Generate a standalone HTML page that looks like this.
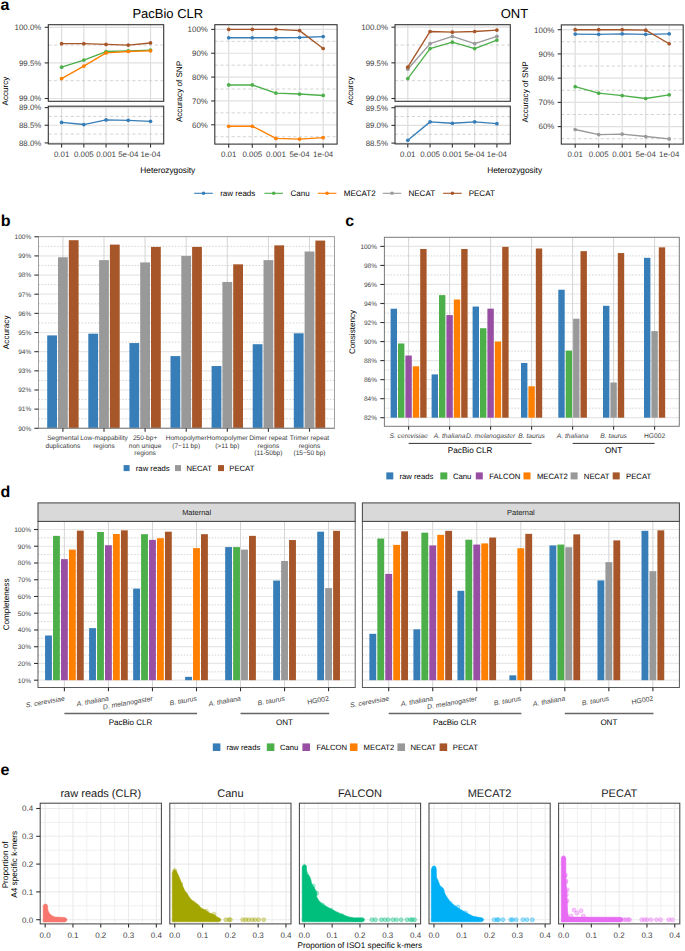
<!DOCTYPE html>
<html><head><meta charset="utf-8"><style>
html,body{margin:0;padding:0;background:#fff;}
svg{display:block;font-family:"Liberation Sans",sans-serif;text-rendering:geometricPrecision;}
</style></head><body>
<svg width="685" height="951" viewBox="0 0 685 951">
<rect width="685" height="951" fill="#fff"/>
<text x="0.6" y="9.8" font-size="16" font-weight="bold">a</text>
<text x="0.8" y="225.8" font-size="16" font-weight="bold">b</text>
<text x="345.2" y="225.8" font-size="16" font-weight="bold">c</text>
<text x="0.5" y="497.2" font-size="16" font-weight="bold">d</text>
<text x="0.6" y="774.9" font-size="16" font-weight="bold">e</text>
<rect x="48.3" y="24.7" width="115.4" height="76.6" fill="#fff"/>
<line x1="61.6" y1="24.7" x2="61.6" y2="101.3" stroke="#DDDDDD" stroke-width="1.2"/>
<line x1="83.83" y1="24.7" x2="83.83" y2="101.3" stroke="#DDDDDD" stroke-width="1.2"/>
<line x1="106.06" y1="24.7" x2="106.06" y2="101.3" stroke="#DDDDDD" stroke-width="1.2"/>
<line x1="128.29" y1="24.7" x2="128.29" y2="101.3" stroke="#DDDDDD" stroke-width="1.2"/>
<line x1="150.52" y1="24.7" x2="150.52" y2="101.3" stroke="#DDDDDD" stroke-width="1.2"/>
<line x1="48.3" y1="98.5" x2="163.7" y2="98.5" stroke="#E0E0E0" stroke-width="1.2"/>
<line x1="48.3" y1="62.9" x2="163.7" y2="62.9" stroke="#E0E0E0" stroke-width="1.2"/>
<line x1="48.3" y1="27.3" x2="163.7" y2="27.3" stroke="#E0E0E0" stroke-width="1.2"/>
<line x1="48.3" y1="80.7" x2="163.7" y2="80.7" stroke="#C8C8C8" stroke-width="0.8" stroke-dasharray="3.2,2.4"/>
<line x1="48.3" y1="45.1" x2="163.7" y2="45.1" stroke="#C8C8C8" stroke-width="0.8" stroke-dasharray="3.2,2.4"/>
<rect x="48.3" y="106.2" width="115.4" height="37.7" fill="#fff"/>
<line x1="61.6" y1="106.2" x2="61.6" y2="143.9" stroke="#DDDDDD" stroke-width="1.2"/>
<line x1="83.83" y1="106.2" x2="83.83" y2="143.9" stroke="#DDDDDD" stroke-width="1.2"/>
<line x1="106.06" y1="106.2" x2="106.06" y2="143.9" stroke="#DDDDDD" stroke-width="1.2"/>
<line x1="128.29" y1="106.2" x2="128.29" y2="143.9" stroke="#DDDDDD" stroke-width="1.2"/>
<line x1="150.52" y1="106.2" x2="150.52" y2="143.9" stroke="#DDDDDD" stroke-width="1.2"/>
<line x1="48.3" y1="142.9" x2="163.7" y2="142.9" stroke="#E0E0E0" stroke-width="1.2"/>
<line x1="48.3" y1="125.25" x2="163.7" y2="125.25" stroke="#E0E0E0" stroke-width="1.2"/>
<line x1="48.3" y1="107.6" x2="163.7" y2="107.6" stroke="#E0E0E0" stroke-width="1.2"/>
<line x1="48.3" y1="134.07" x2="163.7" y2="134.07" stroke="#C8C8C8" stroke-width="0.8" stroke-dasharray="3.2,2.4"/>
<line x1="48.3" y1="116.42" x2="163.7" y2="116.42" stroke="#C8C8C8" stroke-width="0.8" stroke-dasharray="3.2,2.4"/>
<polyline points="61.6,43.68 83.83,43.68 106.06,44.39 128.29,45.1 150.52,42.96" fill="none" stroke="#A65628" stroke-width="1.35" stroke-linejoin="round"/>
<circle cx="61.6" cy="43.68" r="1.85" fill="#A65628"/>
<circle cx="83.83" cy="43.68" r="1.85" fill="#A65628"/>
<circle cx="106.06" cy="44.39" r="1.85" fill="#A65628"/>
<circle cx="128.29" cy="45.1" r="1.85" fill="#A65628"/>
<circle cx="150.52" cy="42.96" r="1.85" fill="#A65628"/>
<polyline points="61.6,67.17 83.83,60.05 106.06,51.51 128.29,50.8 150.52,50.08" fill="none" stroke="#4DAF4A" stroke-width="1.35" stroke-linejoin="round"/>
<circle cx="61.6" cy="67.17" r="1.85" fill="#4DAF4A"/>
<circle cx="83.83" cy="60.05" r="1.85" fill="#4DAF4A"/>
<circle cx="106.06" cy="51.51" r="1.85" fill="#4DAF4A"/>
<circle cx="128.29" cy="50.8" r="1.85" fill="#4DAF4A"/>
<circle cx="150.52" cy="50.08" r="1.85" fill="#4DAF4A"/>
<polyline points="61.6,78.56 83.83,66.1 106.06,52.93 128.29,51.51 150.52,50.8" fill="none" stroke="#FF7F00" stroke-width="1.35" stroke-linejoin="round"/>
<circle cx="61.6" cy="78.56" r="1.85" fill="#FF7F00"/>
<circle cx="83.83" cy="66.1" r="1.85" fill="#FF7F00"/>
<circle cx="106.06" cy="52.93" r="1.85" fill="#FF7F00"/>
<circle cx="128.29" cy="51.51" r="1.85" fill="#FF7F00"/>
<circle cx="150.52" cy="50.8" r="1.85" fill="#FF7F00"/>
<polyline points="61.6,122.43 83.83,124.54 106.06,119.95 128.29,120.31 150.52,121.37" fill="none" stroke="#377EB8" stroke-width="1.35" stroke-linejoin="round"/>
<circle cx="61.6" cy="122.43" r="1.85" fill="#377EB8"/>
<circle cx="83.83" cy="124.54" r="1.85" fill="#377EB8"/>
<circle cx="106.06" cy="119.95" r="1.85" fill="#377EB8"/>
<circle cx="128.29" cy="120.31" r="1.85" fill="#377EB8"/>
<circle cx="150.52" cy="121.37" r="1.85" fill="#377EB8"/>
<rect x="48.3" y="24.7" width="115.4" height="76.6" fill="none" stroke="#333333" stroke-width="1.1"/>
<rect x="48.3" y="106.2" width="115.4" height="37.7" fill="none" stroke="#333333" stroke-width="1.1"/>
<line x1="44.7" y1="27.3" x2="48.3" y2="27.3" stroke="#333333" stroke-width="1.1"/>
<text x="41.3" y="30.14" font-size="7.9" text-anchor="end" fill="#3F3F3F">100.0%</text>
<line x1="44.7" y1="62.9" x2="48.3" y2="62.9" stroke="#333333" stroke-width="1.1"/>
<text x="41.3" y="65.74" font-size="7.9" text-anchor="end" fill="#3F3F3F">99.5%</text>
<line x1="44.7" y1="98.5" x2="48.3" y2="98.5" stroke="#333333" stroke-width="1.1"/>
<text x="41.3" y="101.34" font-size="7.9" text-anchor="end" fill="#3F3F3F">99.0%</text>
<line x1="44.7" y1="107.6" x2="48.3" y2="107.6" stroke="#333333" stroke-width="1.1"/>
<text x="41.3" y="110.44" font-size="7.9" text-anchor="end" fill="#3F3F3F">89.0%</text>
<line x1="44.7" y1="125.25" x2="48.3" y2="125.25" stroke="#333333" stroke-width="1.1"/>
<text x="41.3" y="128.09" font-size="7.9" text-anchor="end" fill="#3F3F3F">88.5%</text>
<line x1="44.7" y1="142.9" x2="48.3" y2="142.9" stroke="#333333" stroke-width="1.1"/>
<text x="41.3" y="145.74" font-size="7.9" text-anchor="end" fill="#3F3F3F">88.0%</text>
<line x1="61.6" y1="143.9" x2="61.6" y2="147.5" stroke="#333333" stroke-width="1.1"/>
<text x="61.6" y="157.4" font-size="7.9" text-anchor="middle" fill="#3F3F3F">0.01</text>
<line x1="83.83" y1="143.9" x2="83.83" y2="147.5" stroke="#333333" stroke-width="1.1"/>
<text x="83.83" y="157.4" font-size="7.9" text-anchor="middle" fill="#3F3F3F">0.005</text>
<line x1="106.06" y1="143.9" x2="106.06" y2="147.5" stroke="#333333" stroke-width="1.1"/>
<text x="106.06" y="157.4" font-size="7.9" text-anchor="middle" fill="#3F3F3F">0.001</text>
<line x1="128.29" y1="143.9" x2="128.29" y2="147.5" stroke="#333333" stroke-width="1.1"/>
<text x="128.29" y="157.4" font-size="7.9" text-anchor="middle" fill="#3F3F3F">5e-04</text>
<line x1="150.52" y1="143.9" x2="150.52" y2="147.5" stroke="#333333" stroke-width="1.1"/>
<text x="150.52" y="157.4" font-size="7.9" text-anchor="middle" fill="#3F3F3F">1e-04</text>
<text x="7.6" y="91" font-size="8.1" text-anchor="middle" transform="rotate(-90 7.6 91)">Accurcy</text>
<rect x="214.8" y="24.7" width="122.3" height="119.4" fill="#fff"/>
<line x1="228.7" y1="24.7" x2="228.7" y2="144.1" stroke="#DDDDDD" stroke-width="1.2"/>
<line x1="252.32" y1="24.7" x2="252.32" y2="144.1" stroke="#DDDDDD" stroke-width="1.2"/>
<line x1="275.94" y1="24.7" x2="275.94" y2="144.1" stroke="#DDDDDD" stroke-width="1.2"/>
<line x1="299.56" y1="24.7" x2="299.56" y2="144.1" stroke="#DDDDDD" stroke-width="1.2"/>
<line x1="323.18" y1="24.7" x2="323.18" y2="144.1" stroke="#DDDDDD" stroke-width="1.2"/>
<line x1="214.8" y1="124.8" x2="337.1" y2="124.8" stroke="#E0E0E0" stroke-width="1.2"/>
<line x1="214.8" y1="100.95" x2="337.1" y2="100.95" stroke="#E0E0E0" stroke-width="1.2"/>
<line x1="214.8" y1="77.1" x2="337.1" y2="77.1" stroke="#E0E0E0" stroke-width="1.2"/>
<line x1="214.8" y1="53.25" x2="337.1" y2="53.25" stroke="#E0E0E0" stroke-width="1.2"/>
<line x1="214.8" y1="29.4" x2="337.1" y2="29.4" stroke="#E0E0E0" stroke-width="1.2"/>
<line x1="214.8" y1="136.72" x2="337.1" y2="136.72" stroke="#C8C8C8" stroke-width="0.8" stroke-dasharray="3.2,2.4"/>
<line x1="214.8" y1="112.88" x2="337.1" y2="112.88" stroke="#C8C8C8" stroke-width="0.8" stroke-dasharray="3.2,2.4"/>
<line x1="214.8" y1="89.03" x2="337.1" y2="89.03" stroke="#C8C8C8" stroke-width="0.8" stroke-dasharray="3.2,2.4"/>
<line x1="214.8" y1="65.17" x2="337.1" y2="65.17" stroke="#C8C8C8" stroke-width="0.8" stroke-dasharray="3.2,2.4"/>
<line x1="214.8" y1="41.33" x2="337.1" y2="41.33" stroke="#C8C8C8" stroke-width="0.8" stroke-dasharray="3.2,2.4"/>
<polyline points="228.7,126.23 252.32,126.23 275.94,138.39 299.56,139.11 323.18,137.68" fill="none" stroke="#FF7F00" stroke-width="1.35" stroke-linejoin="round"/>
<circle cx="228.7" cy="126.23" r="1.85" fill="#FF7F00"/>
<circle cx="252.32" cy="126.23" r="1.85" fill="#FF7F00"/>
<circle cx="275.94" cy="138.39" r="1.85" fill="#FF7F00"/>
<circle cx="299.56" cy="139.11" r="1.85" fill="#FF7F00"/>
<circle cx="323.18" cy="137.68" r="1.85" fill="#FF7F00"/>
<polyline points="228.7,84.97 252.32,84.97 275.94,93.08 299.56,94.03 323.18,95.46" fill="none" stroke="#4DAF4A" stroke-width="1.35" stroke-linejoin="round"/>
<circle cx="228.7" cy="84.97" r="1.85" fill="#4DAF4A"/>
<circle cx="252.32" cy="84.97" r="1.85" fill="#4DAF4A"/>
<circle cx="275.94" cy="93.08" r="1.85" fill="#4DAF4A"/>
<circle cx="299.56" cy="94.03" r="1.85" fill="#4DAF4A"/>
<circle cx="323.18" cy="95.46" r="1.85" fill="#4DAF4A"/>
<polyline points="228.7,37.75 252.32,37.75 275.94,37.75 299.56,37.51 323.18,36.55" fill="none" stroke="#377EB8" stroke-width="1.35" stroke-linejoin="round"/>
<circle cx="228.7" cy="37.75" r="1.85" fill="#377EB8"/>
<circle cx="252.32" cy="37.75" r="1.85" fill="#377EB8"/>
<circle cx="275.94" cy="37.75" r="1.85" fill="#377EB8"/>
<circle cx="299.56" cy="37.51" r="1.85" fill="#377EB8"/>
<circle cx="323.18" cy="36.55" r="1.85" fill="#377EB8"/>
<polyline points="228.7,29.4 252.32,29.4 275.94,29.4 299.56,30.59 323.18,48.48" fill="none" stroke="#A65628" stroke-width="1.35" stroke-linejoin="round"/>
<circle cx="228.7" cy="29.4" r="1.85" fill="#A65628"/>
<circle cx="252.32" cy="29.4" r="1.85" fill="#A65628"/>
<circle cx="275.94" cy="29.4" r="1.85" fill="#A65628"/>
<circle cx="299.56" cy="30.59" r="1.85" fill="#A65628"/>
<circle cx="323.18" cy="48.48" r="1.85" fill="#A65628"/>
<rect x="214.8" y="24.7" width="122.3" height="119.4" fill="none" stroke="#333333" stroke-width="1.1"/>
<line x1="211.2" y1="124.8" x2="214.8" y2="124.8" stroke="#333333" stroke-width="1.1"/>
<text x="207.8" y="127.64" font-size="7.9" text-anchor="end" fill="#3F3F3F">60%</text>
<line x1="211.2" y1="100.95" x2="214.8" y2="100.95" stroke="#333333" stroke-width="1.1"/>
<text x="207.8" y="103.79" font-size="7.9" text-anchor="end" fill="#3F3F3F">70%</text>
<line x1="211.2" y1="77.1" x2="214.8" y2="77.1" stroke="#333333" stroke-width="1.1"/>
<text x="207.8" y="79.94" font-size="7.9" text-anchor="end" fill="#3F3F3F">80%</text>
<line x1="211.2" y1="53.25" x2="214.8" y2="53.25" stroke="#333333" stroke-width="1.1"/>
<text x="207.8" y="56.09" font-size="7.9" text-anchor="end" fill="#3F3F3F">90%</text>
<line x1="211.2" y1="29.4" x2="214.8" y2="29.4" stroke="#333333" stroke-width="1.1"/>
<text x="207.8" y="32.24" font-size="7.9" text-anchor="end" fill="#3F3F3F">100%</text>
<line x1="228.7" y1="144.1" x2="228.7" y2="147.7" stroke="#333333" stroke-width="1.1"/>
<text x="228.7" y="157.4" font-size="7.9" text-anchor="middle" fill="#3F3F3F">0.01</text>
<line x1="252.32" y1="144.1" x2="252.32" y2="147.7" stroke="#333333" stroke-width="1.1"/>
<text x="252.32" y="157.4" font-size="7.9" text-anchor="middle" fill="#3F3F3F">0.005</text>
<line x1="275.94" y1="144.1" x2="275.94" y2="147.7" stroke="#333333" stroke-width="1.1"/>
<text x="275.94" y="157.4" font-size="7.9" text-anchor="middle" fill="#3F3F3F">0.001</text>
<line x1="299.56" y1="144.1" x2="299.56" y2="147.7" stroke="#333333" stroke-width="1.1"/>
<text x="299.56" y="157.4" font-size="7.9" text-anchor="middle" fill="#3F3F3F">5e-04</text>
<line x1="323.18" y1="144.1" x2="323.18" y2="147.7" stroke="#333333" stroke-width="1.1"/>
<text x="323.18" y="157.4" font-size="7.9" text-anchor="middle" fill="#3F3F3F">1e-04</text>
<text x="181.8" y="91.5" font-size="8.1" text-anchor="middle" transform="rotate(-90 181.8 91.5)">Accuracy of SNP</text>
<rect x="395" y="24.7" width="115.3" height="76.6" fill="#fff"/>
<line x1="407.8" y1="24.7" x2="407.8" y2="101.3" stroke="#DDDDDD" stroke-width="1.2"/>
<line x1="430.08" y1="24.7" x2="430.08" y2="101.3" stroke="#DDDDDD" stroke-width="1.2"/>
<line x1="452.36" y1="24.7" x2="452.36" y2="101.3" stroke="#DDDDDD" stroke-width="1.2"/>
<line x1="474.64" y1="24.7" x2="474.64" y2="101.3" stroke="#DDDDDD" stroke-width="1.2"/>
<line x1="496.92" y1="24.7" x2="496.92" y2="101.3" stroke="#DDDDDD" stroke-width="1.2"/>
<line x1="395" y1="98.5" x2="510.3" y2="98.5" stroke="#E0E0E0" stroke-width="1.2"/>
<line x1="395" y1="62.85" x2="510.3" y2="62.85" stroke="#E0E0E0" stroke-width="1.2"/>
<line x1="395" y1="27.2" x2="510.3" y2="27.2" stroke="#E0E0E0" stroke-width="1.2"/>
<line x1="395" y1="80.67" x2="510.3" y2="80.67" stroke="#C8C8C8" stroke-width="0.8" stroke-dasharray="3.2,2.4"/>
<line x1="395" y1="45.02" x2="510.3" y2="45.02" stroke="#C8C8C8" stroke-width="0.8" stroke-dasharray="3.2,2.4"/>
<rect x="395" y="106.2" width="115.3" height="37.7" fill="#fff"/>
<line x1="407.8" y1="106.2" x2="407.8" y2="143.9" stroke="#DDDDDD" stroke-width="1.2"/>
<line x1="430.08" y1="106.2" x2="430.08" y2="143.9" stroke="#DDDDDD" stroke-width="1.2"/>
<line x1="452.36" y1="106.2" x2="452.36" y2="143.9" stroke="#DDDDDD" stroke-width="1.2"/>
<line x1="474.64" y1="106.2" x2="474.64" y2="143.9" stroke="#DDDDDD" stroke-width="1.2"/>
<line x1="496.92" y1="106.2" x2="496.92" y2="143.9" stroke="#DDDDDD" stroke-width="1.2"/>
<line x1="395" y1="143.1" x2="510.3" y2="143.1" stroke="#E0E0E0" stroke-width="1.2"/>
<line x1="395" y1="125.4" x2="510.3" y2="125.4" stroke="#E0E0E0" stroke-width="1.2"/>
<line x1="395" y1="107.7" x2="510.3" y2="107.7" stroke="#E0E0E0" stroke-width="1.2"/>
<line x1="395" y1="134.25" x2="510.3" y2="134.25" stroke="#C8C8C8" stroke-width="0.8" stroke-dasharray="3.2,2.4"/>
<line x1="395" y1="116.55" x2="510.3" y2="116.55" stroke="#C8C8C8" stroke-width="0.8" stroke-dasharray="3.2,2.4"/>
<polyline points="407.8,78.54 430.08,48.59 452.36,42.17 474.64,48.59 496.92,40.03" fill="none" stroke="#4DAF4A" stroke-width="1.35" stroke-linejoin="round"/>
<circle cx="407.8" cy="78.54" r="1.85" fill="#4DAF4A"/>
<circle cx="430.08" cy="48.59" r="1.85" fill="#4DAF4A"/>
<circle cx="452.36" cy="42.17" r="1.85" fill="#4DAF4A"/>
<circle cx="474.64" cy="48.59" r="1.85" fill="#4DAF4A"/>
<circle cx="496.92" cy="40.03" r="1.85" fill="#4DAF4A"/>
<polyline points="407.8,69.27 430.08,43.6 452.36,36.47 474.64,43.6 496.92,36.47" fill="none" stroke="#999999" stroke-width="1.35" stroke-linejoin="round"/>
<circle cx="407.8" cy="69.27" r="1.85" fill="#999999"/>
<circle cx="430.08" cy="43.6" r="1.85" fill="#999999"/>
<circle cx="452.36" cy="36.47" r="1.85" fill="#999999"/>
<circle cx="474.64" cy="43.6" r="1.85" fill="#999999"/>
<circle cx="496.92" cy="36.47" r="1.85" fill="#999999"/>
<polyline points="407.8,67.13 430.08,31.48 452.36,32.19 474.64,31.48 496.92,30.05" fill="none" stroke="#A65628" stroke-width="1.35" stroke-linejoin="round"/>
<circle cx="407.8" cy="67.13" r="1.85" fill="#A65628"/>
<circle cx="430.08" cy="31.48" r="1.85" fill="#A65628"/>
<circle cx="452.36" cy="32.19" r="1.85" fill="#A65628"/>
<circle cx="474.64" cy="31.48" r="1.85" fill="#A65628"/>
<circle cx="496.92" cy="30.05" r="1.85" fill="#A65628"/>
<polyline points="407.8,140.27 430.08,121.86 452.36,123.28 474.64,121.86 496.92,123.63" fill="none" stroke="#377EB8" stroke-width="1.35" stroke-linejoin="round"/>
<circle cx="407.8" cy="140.27" r="1.85" fill="#377EB8"/>
<circle cx="430.08" cy="121.86" r="1.85" fill="#377EB8"/>
<circle cx="452.36" cy="123.28" r="1.85" fill="#377EB8"/>
<circle cx="474.64" cy="121.86" r="1.85" fill="#377EB8"/>
<circle cx="496.92" cy="123.63" r="1.85" fill="#377EB8"/>
<rect x="395" y="24.7" width="115.3" height="76.6" fill="none" stroke="#333333" stroke-width="1.1"/>
<rect x="395" y="106.2" width="115.3" height="37.7" fill="none" stroke="#333333" stroke-width="1.1"/>
<line x1="391.4" y1="27.2" x2="395" y2="27.2" stroke="#333333" stroke-width="1.1"/>
<text x="388" y="30.04" font-size="7.9" text-anchor="end" fill="#3F3F3F">100.0%</text>
<line x1="391.4" y1="62.85" x2="395" y2="62.85" stroke="#333333" stroke-width="1.1"/>
<text x="388" y="65.69" font-size="7.9" text-anchor="end" fill="#3F3F3F">99.5%</text>
<line x1="391.4" y1="98.5" x2="395" y2="98.5" stroke="#333333" stroke-width="1.1"/>
<text x="388" y="101.34" font-size="7.9" text-anchor="end" fill="#3F3F3F">99.0%</text>
<line x1="391.4" y1="107.7" x2="395" y2="107.7" stroke="#333333" stroke-width="1.1"/>
<text x="388" y="110.54" font-size="7.9" text-anchor="end" fill="#3F3F3F">89.5%</text>
<line x1="391.4" y1="125.4" x2="395" y2="125.4" stroke="#333333" stroke-width="1.1"/>
<text x="388" y="128.24" font-size="7.9" text-anchor="end" fill="#3F3F3F">89.0%</text>
<line x1="391.4" y1="143.1" x2="395" y2="143.1" stroke="#333333" stroke-width="1.1"/>
<text x="388" y="145.94" font-size="7.9" text-anchor="end" fill="#3F3F3F">88.5%</text>
<line x1="407.8" y1="143.9" x2="407.8" y2="147.5" stroke="#333333" stroke-width="1.1"/>
<text x="407.8" y="157.4" font-size="7.9" text-anchor="middle" fill="#3F3F3F">0.01</text>
<line x1="430.08" y1="143.9" x2="430.08" y2="147.5" stroke="#333333" stroke-width="1.1"/>
<text x="430.08" y="157.4" font-size="7.9" text-anchor="middle" fill="#3F3F3F">0.005</text>
<line x1="452.36" y1="143.9" x2="452.36" y2="147.5" stroke="#333333" stroke-width="1.1"/>
<text x="452.36" y="157.4" font-size="7.9" text-anchor="middle" fill="#3F3F3F">0.001</text>
<line x1="474.64" y1="143.9" x2="474.64" y2="147.5" stroke="#333333" stroke-width="1.1"/>
<text x="474.64" y="157.4" font-size="7.9" text-anchor="middle" fill="#3F3F3F">5e-04</text>
<line x1="496.92" y1="143.9" x2="496.92" y2="147.5" stroke="#333333" stroke-width="1.1"/>
<text x="496.92" y="157.4" font-size="7.9" text-anchor="middle" fill="#3F3F3F">1e-04</text>
<text x="352.6" y="90.8" font-size="8.1" text-anchor="middle" transform="rotate(-90 352.6 90.8)">Accurcy</text>
<rect x="561.3" y="24.9" width="121.9" height="119.2" fill="#fff"/>
<line x1="575.2" y1="24.9" x2="575.2" y2="144.1" stroke="#DDDDDD" stroke-width="1.2"/>
<line x1="598.7" y1="24.9" x2="598.7" y2="144.1" stroke="#DDDDDD" stroke-width="1.2"/>
<line x1="622.2" y1="24.9" x2="622.2" y2="144.1" stroke="#DDDDDD" stroke-width="1.2"/>
<line x1="645.7" y1="24.9" x2="645.7" y2="144.1" stroke="#DDDDDD" stroke-width="1.2"/>
<line x1="669.2" y1="24.9" x2="669.2" y2="144.1" stroke="#DDDDDD" stroke-width="1.2"/>
<line x1="561.3" y1="126.6" x2="683.2" y2="126.6" stroke="#E0E0E0" stroke-width="1.2"/>
<line x1="561.3" y1="102.37" x2="683.2" y2="102.37" stroke="#E0E0E0" stroke-width="1.2"/>
<line x1="561.3" y1="78.15" x2="683.2" y2="78.15" stroke="#E0E0E0" stroke-width="1.2"/>
<line x1="561.3" y1="53.92" x2="683.2" y2="53.92" stroke="#E0E0E0" stroke-width="1.2"/>
<line x1="561.3" y1="29.7" x2="683.2" y2="29.7" stroke="#E0E0E0" stroke-width="1.2"/>
<line x1="561.3" y1="138.71" x2="683.2" y2="138.71" stroke="#C8C8C8" stroke-width="0.8" stroke-dasharray="3.2,2.4"/>
<line x1="561.3" y1="114.49" x2="683.2" y2="114.49" stroke="#C8C8C8" stroke-width="0.8" stroke-dasharray="3.2,2.4"/>
<line x1="561.3" y1="90.26" x2="683.2" y2="90.26" stroke="#C8C8C8" stroke-width="0.8" stroke-dasharray="3.2,2.4"/>
<line x1="561.3" y1="66.04" x2="683.2" y2="66.04" stroke="#C8C8C8" stroke-width="0.8" stroke-dasharray="3.2,2.4"/>
<line x1="561.3" y1="41.81" x2="683.2" y2="41.81" stroke="#C8C8C8" stroke-width="0.8" stroke-dasharray="3.2,2.4"/>
<polyline points="575.2,129.51 598.7,134.59 622.2,134.11 645.7,136.53 669.2,138.95" fill="none" stroke="#999999" stroke-width="1.35" stroke-linejoin="round"/>
<circle cx="575.2" cy="129.51" r="1.85" fill="#999999"/>
<circle cx="598.7" cy="134.59" r="1.85" fill="#999999"/>
<circle cx="622.2" cy="134.11" r="1.85" fill="#999999"/>
<circle cx="645.7" cy="136.53" r="1.85" fill="#999999"/>
<circle cx="669.2" cy="138.95" r="1.85" fill="#999999"/>
<polyline points="575.2,86.63 598.7,93.17 622.2,95.59 645.7,98.5 669.2,94.87" fill="none" stroke="#4DAF4A" stroke-width="1.35" stroke-linejoin="round"/>
<circle cx="575.2" cy="86.63" r="1.85" fill="#4DAF4A"/>
<circle cx="598.7" cy="93.17" r="1.85" fill="#4DAF4A"/>
<circle cx="622.2" cy="95.59" r="1.85" fill="#4DAF4A"/>
<circle cx="645.7" cy="98.5" r="1.85" fill="#4DAF4A"/>
<circle cx="669.2" cy="94.87" r="1.85" fill="#4DAF4A"/>
<polyline points="575.2,34.06 598.7,34.3 622.2,33.82 645.7,34.3 669.2,33.82" fill="none" stroke="#377EB8" stroke-width="1.35" stroke-linejoin="round"/>
<circle cx="575.2" cy="34.06" r="1.85" fill="#377EB8"/>
<circle cx="598.7" cy="34.3" r="1.85" fill="#377EB8"/>
<circle cx="622.2" cy="33.82" r="1.85" fill="#377EB8"/>
<circle cx="645.7" cy="34.3" r="1.85" fill="#377EB8"/>
<circle cx="669.2" cy="33.82" r="1.85" fill="#377EB8"/>
<polyline points="575.2,29.7 598.7,29.7 622.2,29.7 645.7,30.18 669.2,43.75" fill="none" stroke="#A65628" stroke-width="1.35" stroke-linejoin="round"/>
<circle cx="575.2" cy="29.7" r="1.85" fill="#A65628"/>
<circle cx="598.7" cy="29.7" r="1.85" fill="#A65628"/>
<circle cx="622.2" cy="29.7" r="1.85" fill="#A65628"/>
<circle cx="645.7" cy="30.18" r="1.85" fill="#A65628"/>
<circle cx="669.2" cy="43.75" r="1.85" fill="#A65628"/>
<rect x="561.3" y="24.9" width="121.9" height="119.2" fill="none" stroke="#333333" stroke-width="1.1"/>
<line x1="557.7" y1="126.6" x2="561.3" y2="126.6" stroke="#333333" stroke-width="1.1"/>
<text x="554.3" y="129.44" font-size="7.9" text-anchor="end" fill="#3F3F3F">60%</text>
<line x1="557.7" y1="102.37" x2="561.3" y2="102.37" stroke="#333333" stroke-width="1.1"/>
<text x="554.3" y="105.22" font-size="7.9" text-anchor="end" fill="#3F3F3F">70%</text>
<line x1="557.7" y1="78.15" x2="561.3" y2="78.15" stroke="#333333" stroke-width="1.1"/>
<text x="554.3" y="80.99" font-size="7.9" text-anchor="end" fill="#3F3F3F">80%</text>
<line x1="557.7" y1="53.92" x2="561.3" y2="53.92" stroke="#333333" stroke-width="1.1"/>
<text x="554.3" y="56.77" font-size="7.9" text-anchor="end" fill="#3F3F3F">90%</text>
<line x1="557.7" y1="29.7" x2="561.3" y2="29.7" stroke="#333333" stroke-width="1.1"/>
<text x="554.3" y="32.54" font-size="7.9" text-anchor="end" fill="#3F3F3F">100%</text>
<line x1="575.2" y1="144.1" x2="575.2" y2="147.7" stroke="#333333" stroke-width="1.1"/>
<text x="575.2" y="157.4" font-size="7.9" text-anchor="middle" fill="#3F3F3F">0.01</text>
<line x1="598.7" y1="144.1" x2="598.7" y2="147.7" stroke="#333333" stroke-width="1.1"/>
<text x="598.7" y="157.4" font-size="7.9" text-anchor="middle" fill="#3F3F3F">0.005</text>
<line x1="622.2" y1="144.1" x2="622.2" y2="147.7" stroke="#333333" stroke-width="1.1"/>
<text x="622.2" y="157.4" font-size="7.9" text-anchor="middle" fill="#3F3F3F">0.001</text>
<line x1="645.7" y1="144.1" x2="645.7" y2="147.7" stroke="#333333" stroke-width="1.1"/>
<text x="645.7" y="157.4" font-size="7.9" text-anchor="middle" fill="#3F3F3F">5e-04</text>
<line x1="669.2" y1="144.1" x2="669.2" y2="147.7" stroke="#333333" stroke-width="1.1"/>
<text x="669.2" y="157.4" font-size="7.9" text-anchor="middle" fill="#3F3F3F">1e-04</text>
<text x="528" y="92" font-size="8.1" text-anchor="middle" transform="rotate(-90 528 92)">Accuracy of SNP</text>
<text x="167.8" y="18.2" font-size="13" text-anchor="middle">PacBio CLR</text>
<text x="514.4" y="18.2" font-size="13" text-anchor="middle">ONT</text>
<text x="167.8" y="173.2" font-size="8.3" text-anchor="middle">Heterozygosity</text>
<text x="514.6" y="173.2" font-size="8.3" text-anchor="middle">Heterozygosity</text>
<line x1="194.2" y1="193.3" x2="212.8" y2="193.3" stroke="#377EB8" stroke-width="1.1"/>
<circle cx="203.5" cy="193.3" r="1.75" fill="#377EB8"/>
<text x="220.2" y="196.18" font-size="8">raw reads</text>
<line x1="264.4" y1="193.3" x2="283" y2="193.3" stroke="#4DAF4A" stroke-width="1.1"/>
<circle cx="273.7" cy="193.3" r="1.75" fill="#4DAF4A"/>
<text x="290.5" y="196.18" font-size="8">Canu</text>
<line x1="317.8" y1="193.3" x2="336.4" y2="193.3" stroke="#FF7F00" stroke-width="1.1"/>
<circle cx="327.1" cy="193.3" r="1.75" fill="#FF7F00"/>
<text x="343.8" y="196.18" font-size="8">MECAT2</text>
<line x1="382.7" y1="193.3" x2="401.3" y2="193.3" stroke="#999999" stroke-width="1.1"/>
<circle cx="392" cy="193.3" r="1.75" fill="#999999"/>
<text x="408.5" y="196.18" font-size="8">NECAT</text>
<line x1="443.1" y1="193.3" x2="461.7" y2="193.3" stroke="#A65628" stroke-width="1.1"/>
<circle cx="452.4" cy="193.3" r="1.75" fill="#A65628"/>
<text x="468.7" y="196.18" font-size="8">PECAT</text>
<rect x="38.5" y="236.6" width="296" height="191.7" fill="#fff"/>
<line x1="38.5" y1="428.3" x2="334.5" y2="428.3" stroke="#E6E6E6" stroke-width="1.2"/>
<line x1="38.5" y1="409.14" x2="334.5" y2="409.14" stroke="#E6E6E6" stroke-width="1.2"/>
<line x1="38.5" y1="389.99" x2="334.5" y2="389.99" stroke="#E6E6E6" stroke-width="1.2"/>
<line x1="38.5" y1="370.84" x2="334.5" y2="370.84" stroke="#E6E6E6" stroke-width="1.2"/>
<line x1="38.5" y1="351.68" x2="334.5" y2="351.68" stroke="#E6E6E6" stroke-width="1.2"/>
<line x1="38.5" y1="332.52" x2="334.5" y2="332.52" stroke="#E6E6E6" stroke-width="1.2"/>
<line x1="38.5" y1="313.37" x2="334.5" y2="313.37" stroke="#E6E6E6" stroke-width="1.2"/>
<line x1="38.5" y1="294.22" x2="334.5" y2="294.22" stroke="#E6E6E6" stroke-width="1.2"/>
<line x1="38.5" y1="275.06" x2="334.5" y2="275.06" stroke="#E6E6E6" stroke-width="1.2"/>
<line x1="38.5" y1="255.91" x2="334.5" y2="255.91" stroke="#E6E6E6" stroke-width="1.2"/>
<line x1="38.5" y1="236.75" x2="334.5" y2="236.75" stroke="#E6E6E6" stroke-width="1.2"/>
<line x1="38.5" y1="418.72" x2="334.5" y2="418.72" stroke="#C8C8C8" stroke-width="0.8" stroke-dasharray="1.5,1.6"/>
<line x1="38.5" y1="399.57" x2="334.5" y2="399.57" stroke="#C8C8C8" stroke-width="0.8" stroke-dasharray="1.5,1.6"/>
<line x1="38.5" y1="380.41" x2="334.5" y2="380.41" stroke="#C8C8C8" stroke-width="0.8" stroke-dasharray="1.5,1.6"/>
<line x1="38.5" y1="361.26" x2="334.5" y2="361.26" stroke="#C8C8C8" stroke-width="0.8" stroke-dasharray="1.5,1.6"/>
<line x1="38.5" y1="342.1" x2="334.5" y2="342.1" stroke="#C8C8C8" stroke-width="0.8" stroke-dasharray="1.5,1.6"/>
<line x1="38.5" y1="322.95" x2="334.5" y2="322.95" stroke="#C8C8C8" stroke-width="0.8" stroke-dasharray="1.5,1.6"/>
<line x1="38.5" y1="303.79" x2="334.5" y2="303.79" stroke="#C8C8C8" stroke-width="0.8" stroke-dasharray="1.5,1.6"/>
<line x1="38.5" y1="284.64" x2="334.5" y2="284.64" stroke="#C8C8C8" stroke-width="0.8" stroke-dasharray="1.5,1.6"/>
<line x1="38.5" y1="265.48" x2="334.5" y2="265.48" stroke="#C8C8C8" stroke-width="0.8" stroke-dasharray="1.5,1.6"/>
<line x1="38.5" y1="246.33" x2="334.5" y2="246.33" stroke="#C8C8C8" stroke-width="0.8" stroke-dasharray="1.5,1.6"/>
<line x1="62.9" y1="236.6" x2="62.9" y2="428.3" stroke="#D0D0D0" stroke-width="0.9"/>
<line x1="104" y1="236.6" x2="104" y2="428.3" stroke="#D0D0D0" stroke-width="0.9"/>
<line x1="145.1" y1="236.6" x2="145.1" y2="428.3" stroke="#D0D0D0" stroke-width="0.9"/>
<line x1="186.2" y1="236.6" x2="186.2" y2="428.3" stroke="#D0D0D0" stroke-width="0.9"/>
<line x1="227.3" y1="236.6" x2="227.3" y2="428.3" stroke="#D0D0D0" stroke-width="0.9"/>
<line x1="268.4" y1="236.6" x2="268.4" y2="428.3" stroke="#D0D0D0" stroke-width="0.9"/>
<line x1="309.5" y1="236.6" x2="309.5" y2="428.3" stroke="#D0D0D0" stroke-width="0.9"/>
<rect x="47.2" y="335.4" width="9.8" height="92.9" fill="#377EB8"/>
<rect x="58" y="257.25" width="9.8" height="171.05" fill="#999999"/>
<rect x="68.8" y="240.2" width="9.8" height="188.1" fill="#A65628"/>
<rect x="88.3" y="333.67" width="9.8" height="94.63" fill="#377EB8"/>
<rect x="99.1" y="260.12" width="9.8" height="168.18" fill="#999999"/>
<rect x="109.9" y="244.6" width="9.8" height="183.7" fill="#A65628"/>
<rect x="129.4" y="343.06" width="9.8" height="85.24" fill="#377EB8"/>
<rect x="140.2" y="262.42" width="9.8" height="165.88" fill="#999999"/>
<rect x="151" y="246.9" width="9.8" height="181.4" fill="#A65628"/>
<rect x="170.5" y="356.09" width="9.8" height="72.21" fill="#377EB8"/>
<rect x="181.3" y="255.91" width="9.8" height="172.4" fill="#999999"/>
<rect x="192.1" y="246.9" width="9.8" height="181.4" fill="#A65628"/>
<rect x="211.6" y="366.05" width="9.8" height="62.25" fill="#377EB8"/>
<rect x="222.4" y="281.96" width="9.8" height="146.34" fill="#999999"/>
<rect x="233.2" y="264.33" width="9.8" height="163.97" fill="#A65628"/>
<rect x="252.7" y="344.21" width="9.8" height="84.09" fill="#377EB8"/>
<rect x="263.5" y="260.12" width="9.8" height="168.18" fill="#999999"/>
<rect x="274.3" y="245.37" width="9.8" height="182.93" fill="#A65628"/>
<rect x="293.8" y="333.29" width="9.8" height="95.01" fill="#377EB8"/>
<rect x="304.6" y="251.5" width="9.8" height="176.8" fill="#999999"/>
<rect x="315.4" y="240.58" width="9.8" height="187.72" fill="#A65628"/>
<rect x="38.5" y="236.6" width="296" height="191.7" fill="none" stroke="#A0A0A0" stroke-width="1"/>
<line x1="38.5" y1="428.3" x2="334.5" y2="428.3" stroke="#8A8A8A" stroke-width="1"/>
<line x1="34.4" y1="428.3" x2="38.5" y2="428.3" stroke="#333" stroke-width="1.1"/>
<text x="31.2" y="430.64" font-size="6.5" text-anchor="end" fill="#3F3F3F">90%</text>
<line x1="34.4" y1="409.14" x2="38.5" y2="409.14" stroke="#333" stroke-width="1.1"/>
<text x="31.2" y="411.48" font-size="6.5" text-anchor="end" fill="#3F3F3F">91%</text>
<line x1="34.4" y1="389.99" x2="38.5" y2="389.99" stroke="#333" stroke-width="1.1"/>
<text x="31.2" y="392.33" font-size="6.5" text-anchor="end" fill="#3F3F3F">92%</text>
<line x1="34.4" y1="370.84" x2="38.5" y2="370.84" stroke="#333" stroke-width="1.1"/>
<text x="31.2" y="373.18" font-size="6.5" text-anchor="end" fill="#3F3F3F">93%</text>
<line x1="34.4" y1="351.68" x2="38.5" y2="351.68" stroke="#333" stroke-width="1.1"/>
<text x="31.2" y="354.02" font-size="6.5" text-anchor="end" fill="#3F3F3F">94%</text>
<line x1="34.4" y1="332.52" x2="38.5" y2="332.52" stroke="#333" stroke-width="1.1"/>
<text x="31.2" y="334.86" font-size="6.5" text-anchor="end" fill="#3F3F3F">95%</text>
<line x1="34.4" y1="313.37" x2="38.5" y2="313.37" stroke="#333" stroke-width="1.1"/>
<text x="31.2" y="315.71" font-size="6.5" text-anchor="end" fill="#3F3F3F">96%</text>
<line x1="34.4" y1="294.22" x2="38.5" y2="294.22" stroke="#333" stroke-width="1.1"/>
<text x="31.2" y="296.56" font-size="6.5" text-anchor="end" fill="#3F3F3F">97%</text>
<line x1="34.4" y1="275.06" x2="38.5" y2="275.06" stroke="#333" stroke-width="1.1"/>
<text x="31.2" y="277.4" font-size="6.5" text-anchor="end" fill="#3F3F3F">98%</text>
<line x1="34.4" y1="255.91" x2="38.5" y2="255.91" stroke="#333" stroke-width="1.1"/>
<text x="31.2" y="258.25" font-size="6.5" text-anchor="end" fill="#3F3F3F">99%</text>
<line x1="34.4" y1="236.75" x2="38.5" y2="236.75" stroke="#333" stroke-width="1.1"/>
<text x="31.2" y="239.09" font-size="6.5" text-anchor="end" fill="#3F3F3F">100%</text>
<line x1="62.9" y1="428.3" x2="62.9" y2="431.7" stroke="#333" stroke-width="1.1"/>
<text x="62.9" y="440.18" font-size="6.6" text-anchor="middle" fill="#3A3A3A">Segmental</text>
<text x="62.9" y="447.58" font-size="6.6" text-anchor="middle" fill="#3A3A3A">duplications</text>
<line x1="104" y1="428.3" x2="104" y2="431.7" stroke="#333" stroke-width="1.1"/>
<text x="104" y="440.18" font-size="6.6" text-anchor="middle" fill="#3A3A3A">Low-mappability</text>
<text x="104" y="447.58" font-size="6.6" text-anchor="middle" fill="#3A3A3A">regions</text>
<line x1="145.1" y1="428.3" x2="145.1" y2="431.7" stroke="#333" stroke-width="1.1"/>
<text x="145.1" y="440.18" font-size="6.6" text-anchor="middle" fill="#3A3A3A">250-bp+</text>
<text x="145.1" y="447.58" font-size="6.6" text-anchor="middle" fill="#3A3A3A">non unique</text>
<text x="145.1" y="454.98" font-size="6.6" text-anchor="middle" fill="#3A3A3A">regions</text>
<line x1="186.2" y1="428.3" x2="186.2" y2="431.7" stroke="#333" stroke-width="1.1"/>
<text x="186.2" y="440.18" font-size="6.6" text-anchor="middle" fill="#3A3A3A">Homopolymer</text>
<text x="186.2" y="447.58" font-size="6.6" text-anchor="middle" fill="#3A3A3A">(7−11 bp)</text>
<line x1="227.3" y1="428.3" x2="227.3" y2="431.7" stroke="#333" stroke-width="1.1"/>
<text x="227.3" y="440.18" font-size="6.6" text-anchor="middle" fill="#3A3A3A">Homopolymer</text>
<text x="227.3" y="447.58" font-size="6.6" text-anchor="middle" fill="#3A3A3A">(&gt;11 bp)</text>
<line x1="268.4" y1="428.3" x2="268.4" y2="431.7" stroke="#333" stroke-width="1.1"/>
<text x="268.4" y="440.18" font-size="6.6" text-anchor="middle" fill="#3A3A3A">Dimer repeat</text>
<text x="268.4" y="447.58" font-size="6.6" text-anchor="middle" fill="#3A3A3A">regions</text>
<text x="268.4" y="454.98" font-size="6.6" text-anchor="middle" fill="#3A3A3A">(11-50bp)</text>
<line x1="309.5" y1="428.3" x2="309.5" y2="431.7" stroke="#333" stroke-width="1.1"/>
<text x="309.5" y="440.18" font-size="6.6" text-anchor="middle" fill="#3A3A3A">Trimer repeat</text>
<text x="309.5" y="447.58" font-size="6.6" text-anchor="middle" fill="#3A3A3A">regions</text>
<text x="309.5" y="454.98" font-size="6.6" text-anchor="middle" fill="#3A3A3A">(15−50 bp)</text>
<text x="9.5" y="332.3" font-size="8.2" text-anchor="middle" transform="rotate(-90 9.5 332.3)">Accuracy</text>
<rect x="123.6" y="465.1" width="6" height="6" fill="#377EB8"/>
<text x="135.8" y="470.87" font-size="7.7">raw reads</text>
<rect x="175" y="465.1" width="6" height="6" fill="#999999"/>
<text x="186.4" y="470.87" font-size="7.7">NECAT</text>
<rect x="218" y="465.1" width="6" height="6" fill="#A65628"/>
<text x="229.3" y="470.87" font-size="7.7">PECAT</text>
<rect x="384.4" y="237.3" width="294.9" height="189" fill="#fff"/>
<line x1="384.4" y1="417.7" x2="679.3" y2="417.7" stroke="#E6E6E6" stroke-width="1.2"/>
<line x1="384.4" y1="398.67" x2="679.3" y2="398.67" stroke="#E6E6E6" stroke-width="1.2"/>
<line x1="384.4" y1="379.63" x2="679.3" y2="379.63" stroke="#E6E6E6" stroke-width="1.2"/>
<line x1="384.4" y1="360.6" x2="679.3" y2="360.6" stroke="#E6E6E6" stroke-width="1.2"/>
<line x1="384.4" y1="341.57" x2="679.3" y2="341.57" stroke="#E6E6E6" stroke-width="1.2"/>
<line x1="384.4" y1="322.53" x2="679.3" y2="322.53" stroke="#E6E6E6" stroke-width="1.2"/>
<line x1="384.4" y1="303.5" x2="679.3" y2="303.5" stroke="#E6E6E6" stroke-width="1.2"/>
<line x1="384.4" y1="284.47" x2="679.3" y2="284.47" stroke="#E6E6E6" stroke-width="1.2"/>
<line x1="384.4" y1="265.43" x2="679.3" y2="265.43" stroke="#E6E6E6" stroke-width="1.2"/>
<line x1="384.4" y1="246.4" x2="679.3" y2="246.4" stroke="#E6E6E6" stroke-width="1.2"/>
<line x1="384.4" y1="408.18" x2="679.3" y2="408.18" stroke="#C8C8C8" stroke-width="0.8" stroke-dasharray="1.5,1.6"/>
<line x1="384.4" y1="389.15" x2="679.3" y2="389.15" stroke="#C8C8C8" stroke-width="0.8" stroke-dasharray="1.5,1.6"/>
<line x1="384.4" y1="370.12" x2="679.3" y2="370.12" stroke="#C8C8C8" stroke-width="0.8" stroke-dasharray="1.5,1.6"/>
<line x1="384.4" y1="351.08" x2="679.3" y2="351.08" stroke="#C8C8C8" stroke-width="0.8" stroke-dasharray="1.5,1.6"/>
<line x1="384.4" y1="332.05" x2="679.3" y2="332.05" stroke="#C8C8C8" stroke-width="0.8" stroke-dasharray="1.5,1.6"/>
<line x1="384.4" y1="313.02" x2="679.3" y2="313.02" stroke="#C8C8C8" stroke-width="0.8" stroke-dasharray="1.5,1.6"/>
<line x1="384.4" y1="293.98" x2="679.3" y2="293.98" stroke="#C8C8C8" stroke-width="0.8" stroke-dasharray="1.5,1.6"/>
<line x1="384.4" y1="274.95" x2="679.3" y2="274.95" stroke="#C8C8C8" stroke-width="0.8" stroke-dasharray="1.5,1.6"/>
<line x1="384.4" y1="255.92" x2="679.3" y2="255.92" stroke="#C8C8C8" stroke-width="0.8" stroke-dasharray="1.5,1.6"/>
<line x1="408.6" y1="237.3" x2="408.6" y2="426.3" stroke="#D0D0D0" stroke-width="0.9"/>
<line x1="449.6" y1="237.3" x2="449.6" y2="426.3" stroke="#D0D0D0" stroke-width="0.9"/>
<line x1="490.6" y1="237.3" x2="490.6" y2="426.3" stroke="#D0D0D0" stroke-width="0.9"/>
<line x1="531.6" y1="237.3" x2="531.6" y2="426.3" stroke="#D0D0D0" stroke-width="0.9"/>
<line x1="572.6" y1="237.3" x2="572.6" y2="426.3" stroke="#D0D0D0" stroke-width="0.9"/>
<line x1="613.6" y1="237.3" x2="613.6" y2="426.3" stroke="#D0D0D0" stroke-width="0.9"/>
<line x1="654.6" y1="237.3" x2="654.6" y2="426.3" stroke="#D0D0D0" stroke-width="0.9"/>
<rect x="390.6" y="308.73" width="6.4" height="108.97" fill="#377EB8"/>
<rect x="398" y="343.47" width="6.4" height="74.23" fill="#4DAF4A"/>
<rect x="405.4" y="355.56" width="6.4" height="62.14" fill="#984EA3"/>
<rect x="412.8" y="366.31" width="6.4" height="51.39" fill="#FF7F00"/>
<rect x="420.2" y="248.97" width="6.4" height="168.73" fill="#A65628"/>
<rect x="431.6" y="374.4" width="6.4" height="43.3" fill="#377EB8"/>
<rect x="439" y="295.13" width="6.4" height="122.57" fill="#4DAF4A"/>
<rect x="446.4" y="315.11" width="6.4" height="102.59" fill="#984EA3"/>
<rect x="453.8" y="299.5" width="6.4" height="118.2" fill="#FF7F00"/>
<rect x="461.2" y="248.97" width="6.4" height="168.73" fill="#A65628"/>
<rect x="472.6" y="306.55" width="6.4" height="111.15" fill="#377EB8"/>
<rect x="480" y="328.24" width="6.4" height="89.46" fill="#4DAF4A"/>
<rect x="487.4" y="308.64" width="6.4" height="109.06" fill="#984EA3"/>
<rect x="494.8" y="341.57" width="6.4" height="76.13" fill="#FF7F00"/>
<rect x="502.2" y="246.88" width="6.4" height="170.82" fill="#A65628"/>
<rect x="521" y="362.98" width="6.4" height="54.72" fill="#377EB8"/>
<rect x="528.4" y="386.3" width="6.4" height="31.4" fill="#FF7F00"/>
<rect x="535.8" y="248.49" width="6.4" height="169.21" fill="#A65628"/>
<rect x="558.3" y="289.7" width="6.4" height="128" fill="#377EB8"/>
<rect x="565.7" y="350.61" width="6.4" height="67.09" fill="#4DAF4A"/>
<rect x="573.1" y="318.73" width="6.4" height="98.97" fill="#999999"/>
<rect x="580.5" y="251.16" width="6.4" height="166.54" fill="#A65628"/>
<rect x="603" y="305.78" width="6.4" height="111.92" fill="#377EB8"/>
<rect x="610.4" y="382.49" width="6.4" height="35.21" fill="#999999"/>
<rect x="617.8" y="253.06" width="6.4" height="164.64" fill="#A65628"/>
<rect x="644" y="257.82" width="6.4" height="159.88" fill="#377EB8"/>
<rect x="651.4" y="331.1" width="6.4" height="86.6" fill="#999999"/>
<rect x="658.8" y="247.35" width="6.4" height="170.35" fill="#A65628"/>
<rect x="384.4" y="237.3" width="294.9" height="189" fill="none" stroke="#7A7A7A" stroke-width="1"/>
<line x1="380.3" y1="417.7" x2="384.4" y2="417.7" stroke="#333" stroke-width="1.1"/>
<text x="377" y="420.04" font-size="6.5" text-anchor="end" fill="#3F3F3F">82%</text>
<line x1="380.3" y1="398.67" x2="384.4" y2="398.67" stroke="#333" stroke-width="1.1"/>
<text x="377" y="401.01" font-size="6.5" text-anchor="end" fill="#3F3F3F">84%</text>
<line x1="380.3" y1="379.63" x2="384.4" y2="379.63" stroke="#333" stroke-width="1.1"/>
<text x="377" y="381.97" font-size="6.5" text-anchor="end" fill="#3F3F3F">86%</text>
<line x1="380.3" y1="360.6" x2="384.4" y2="360.6" stroke="#333" stroke-width="1.1"/>
<text x="377" y="362.94" font-size="6.5" text-anchor="end" fill="#3F3F3F">88%</text>
<line x1="380.3" y1="341.57" x2="384.4" y2="341.57" stroke="#333" stroke-width="1.1"/>
<text x="377" y="343.91" font-size="6.5" text-anchor="end" fill="#3F3F3F">90%</text>
<line x1="380.3" y1="322.53" x2="384.4" y2="322.53" stroke="#333" stroke-width="1.1"/>
<text x="377" y="324.87" font-size="6.5" text-anchor="end" fill="#3F3F3F">92%</text>
<line x1="380.3" y1="303.5" x2="384.4" y2="303.5" stroke="#333" stroke-width="1.1"/>
<text x="377" y="305.84" font-size="6.5" text-anchor="end" fill="#3F3F3F">94%</text>
<line x1="380.3" y1="284.47" x2="384.4" y2="284.47" stroke="#333" stroke-width="1.1"/>
<text x="377" y="286.81" font-size="6.5" text-anchor="end" fill="#3F3F3F">96%</text>
<line x1="380.3" y1="265.43" x2="384.4" y2="265.43" stroke="#333" stroke-width="1.1"/>
<text x="377" y="267.77" font-size="6.5" text-anchor="end" fill="#3F3F3F">98%</text>
<line x1="380.3" y1="246.4" x2="384.4" y2="246.4" stroke="#333" stroke-width="1.1"/>
<text x="377" y="248.74" font-size="6.5" text-anchor="end" fill="#3F3F3F">100%</text>
<line x1="408.6" y1="426.3" x2="408.6" y2="429.7" stroke="#333" stroke-width="1.1"/>
<text x="408.6" y="438.4" font-size="6.7" text-anchor="middle" fill="#3F3F3F" font-style="italic">S. cerevisiae</text>
<line x1="449.6" y1="426.3" x2="449.6" y2="429.7" stroke="#333" stroke-width="1.1"/>
<text x="449.6" y="438.4" font-size="6.7" text-anchor="middle" fill="#3F3F3F" font-style="italic">A. thaliana</text>
<line x1="490.6" y1="426.3" x2="490.6" y2="429.7" stroke="#333" stroke-width="1.1"/>
<text x="490.6" y="438.4" font-size="6.7" text-anchor="middle" fill="#3F3F3F" font-style="italic">D. melanogaster</text>
<line x1="531.6" y1="426.3" x2="531.6" y2="429.7" stroke="#333" stroke-width="1.1"/>
<text x="531.6" y="438.4" font-size="6.7" text-anchor="middle" fill="#3F3F3F" font-style="italic">B. taurus</text>
<line x1="572.6" y1="426.3" x2="572.6" y2="429.7" stroke="#333" stroke-width="1.1"/>
<text x="572.6" y="438.4" font-size="6.7" text-anchor="middle" fill="#3F3F3F" font-style="italic">A. thaliana</text>
<line x1="613.6" y1="426.3" x2="613.6" y2="429.7" stroke="#333" stroke-width="1.1"/>
<text x="613.6" y="438.4" font-size="6.7" text-anchor="middle" fill="#3F3F3F" font-style="italic">B. taurus</text>
<line x1="654.6" y1="426.3" x2="654.6" y2="429.7" stroke="#333" stroke-width="1.1"/>
<text x="654.6" y="438.4" font-size="6.7" text-anchor="middle" fill="#3F3F3F">HG002</text>
<line x1="408.6" y1="443.4" x2="531.6" y2="443.4" stroke="#333" stroke-width="1"/>
<line x1="572.6" y1="443.4" x2="654.6" y2="443.4" stroke="#333" stroke-width="1"/>
<text x="470.1" y="452.65" font-size="8.2" text-anchor="middle">PacBio CLR</text>
<text x="613.6" y="452.65" font-size="8.2" text-anchor="middle">ONT</text>
<text x="355.4" y="332" font-size="8.1" text-anchor="middle" transform="rotate(-90 355.4 332)">Consistency</text>
<rect x="386.3" y="472.4" width="7" height="7" fill="#377EB8"/>
<text x="399.4" y="478.69" font-size="7.75">raw reads</text>
<rect x="440.3" y="472.4" width="7" height="7" fill="#4DAF4A"/>
<text x="452.9" y="478.69" font-size="7.75">Canu</text>
<rect x="475.8" y="472.4" width="7" height="7" fill="#984EA3"/>
<text x="489.3" y="478.69" font-size="7.75">FALCON</text>
<rect x="523.5" y="472.4" width="7" height="7" fill="#FF7F00"/>
<text x="536.9" y="478.69" font-size="7.75">MECAT2</text>
<rect x="570.6" y="472.4" width="7" height="7" fill="#999999"/>
<text x="583.8" y="478.69" font-size="7.75">NECAT</text>
<rect x="612.7" y="472.4" width="7" height="7" fill="#A65628"/>
<text x="626" y="478.69" font-size="7.75">PECAT</text>
<rect x="38" y="521.4" width="317.2" height="166.1" fill="#fff"/>
<line x1="38" y1="680.2" x2="355.2" y2="680.2" stroke="#E6E6E6" stroke-width="1.2"/>
<line x1="38" y1="663.46" x2="355.2" y2="663.46" stroke="#E6E6E6" stroke-width="1.2"/>
<line x1="38" y1="646.71" x2="355.2" y2="646.71" stroke="#E6E6E6" stroke-width="1.2"/>
<line x1="38" y1="629.97" x2="355.2" y2="629.97" stroke="#E6E6E6" stroke-width="1.2"/>
<line x1="38" y1="613.22" x2="355.2" y2="613.22" stroke="#E6E6E6" stroke-width="1.2"/>
<line x1="38" y1="596.48" x2="355.2" y2="596.48" stroke="#E6E6E6" stroke-width="1.2"/>
<line x1="38" y1="579.73" x2="355.2" y2="579.73" stroke="#E6E6E6" stroke-width="1.2"/>
<line x1="38" y1="562.99" x2="355.2" y2="562.99" stroke="#E6E6E6" stroke-width="1.2"/>
<line x1="38" y1="546.24" x2="355.2" y2="546.24" stroke="#E6E6E6" stroke-width="1.2"/>
<line x1="38" y1="529.5" x2="355.2" y2="529.5" stroke="#E6E6E6" stroke-width="1.2"/>
<line x1="38" y1="671.83" x2="355.2" y2="671.83" stroke="#C8C8C8" stroke-width="0.8" stroke-dasharray="1.5,1.6"/>
<line x1="38" y1="655.08" x2="355.2" y2="655.08" stroke="#C8C8C8" stroke-width="0.8" stroke-dasharray="1.5,1.6"/>
<line x1="38" y1="638.34" x2="355.2" y2="638.34" stroke="#C8C8C8" stroke-width="0.8" stroke-dasharray="1.5,1.6"/>
<line x1="38" y1="621.59" x2="355.2" y2="621.59" stroke="#C8C8C8" stroke-width="0.8" stroke-dasharray="1.5,1.6"/>
<line x1="38" y1="604.85" x2="355.2" y2="604.85" stroke="#C8C8C8" stroke-width="0.8" stroke-dasharray="1.5,1.6"/>
<line x1="38" y1="588.11" x2="355.2" y2="588.11" stroke="#C8C8C8" stroke-width="0.8" stroke-dasharray="1.5,1.6"/>
<line x1="38" y1="571.36" x2="355.2" y2="571.36" stroke="#C8C8C8" stroke-width="0.8" stroke-dasharray="1.5,1.6"/>
<line x1="38" y1="554.62" x2="355.2" y2="554.62" stroke="#C8C8C8" stroke-width="0.8" stroke-dasharray="1.5,1.6"/>
<line x1="38" y1="537.87" x2="355.2" y2="537.87" stroke="#C8C8C8" stroke-width="0.8" stroke-dasharray="1.5,1.6"/>
<line x1="64.4" y1="521.4" x2="64.4" y2="687.5" stroke="#D0D0D0" stroke-width="0.9"/>
<line x1="108.43" y1="521.4" x2="108.43" y2="687.5" stroke="#D0D0D0" stroke-width="0.9"/>
<line x1="152.46" y1="521.4" x2="152.46" y2="687.5" stroke="#D0D0D0" stroke-width="0.9"/>
<line x1="196.49" y1="521.4" x2="196.49" y2="687.5" stroke="#D0D0D0" stroke-width="0.9"/>
<line x1="240.52" y1="521.4" x2="240.52" y2="687.5" stroke="#D0D0D0" stroke-width="0.9"/>
<line x1="284.55" y1="521.4" x2="284.55" y2="687.5" stroke="#D0D0D0" stroke-width="0.9"/>
<line x1="328.58" y1="521.4" x2="328.58" y2="687.5" stroke="#D0D0D0" stroke-width="0.9"/>
<rect x="45.08" y="635.49" width="6.85" height="44.71" fill="#377EB8"/>
<rect x="53.03" y="535.86" width="6.85" height="144.34" fill="#4DAF4A"/>
<rect x="60.98" y="559.14" width="6.85" height="121.06" fill="#984EA3"/>
<rect x="68.92" y="549.59" width="6.85" height="130.61" fill="#FF7F00"/>
<rect x="76.88" y="530.67" width="6.85" height="149.53" fill="#A65628"/>
<rect x="89.11" y="628.12" width="6.85" height="52.08" fill="#377EB8"/>
<rect x="97.06" y="532.01" width="6.85" height="148.19" fill="#4DAF4A"/>
<rect x="105.01" y="545.24" width="6.85" height="134.96" fill="#984EA3"/>
<rect x="112.95" y="534.02" width="6.85" height="146.18" fill="#FF7F00"/>
<rect x="120.91" y="530.34" width="6.85" height="149.86" fill="#A65628"/>
<rect x="133.14" y="588.61" width="6.85" height="91.59" fill="#377EB8"/>
<rect x="141.09" y="534.19" width="6.85" height="146.01" fill="#4DAF4A"/>
<rect x="149.04" y="539.88" width="6.85" height="140.32" fill="#984EA3"/>
<rect x="156.99" y="538.21" width="6.85" height="141.99" fill="#FF7F00"/>
<rect x="164.94" y="531.68" width="6.85" height="148.52" fill="#A65628"/>
<rect x="185.12" y="676.85" width="6.85" height="3.35" fill="#377EB8"/>
<rect x="193.06" y="548.09" width="6.85" height="132.11" fill="#FF7F00"/>
<rect x="201.02" y="534.19" width="6.85" height="146.01" fill="#A65628"/>
<rect x="225.17" y="547.08" width="6.85" height="133.12" fill="#377EB8"/>
<rect x="233.12" y="547.08" width="6.85" height="133.12" fill="#4DAF4A"/>
<rect x="241.07" y="549.59" width="6.85" height="130.61" fill="#999999"/>
<rect x="249.02" y="535.86" width="6.85" height="144.34" fill="#A65628"/>
<rect x="273.18" y="580.57" width="6.85" height="99.63" fill="#377EB8"/>
<rect x="281.12" y="560.98" width="6.85" height="119.22" fill="#999999"/>
<rect x="289.07" y="540.05" width="6.85" height="140.15" fill="#A65628"/>
<rect x="317.21" y="531.68" width="6.85" height="148.52" fill="#377EB8"/>
<rect x="325.16" y="588.11" width="6.85" height="92.09" fill="#999999"/>
<rect x="333.11" y="530.84" width="6.85" height="149.36" fill="#A65628"/>
<rect x="38" y="521.4" width="317.2" height="166.1" fill="none" stroke="#5A5A5A" stroke-width="1"/>
<rect x="38" y="502.9" width="317.2" height="18.5" fill="#D9D9D9" stroke="#484848" stroke-width="1.05"/>
<text x="196.6" y="514.88" font-size="7.45" text-anchor="middle" fill="#1A1A1A">Maternal</text>
<line x1="34" y1="680.2" x2="38" y2="680.2" stroke="#333" stroke-width="1.1"/>
<text x="31" y="682.58" font-size="6.6" text-anchor="end" fill="#3F3F3F">10%</text>
<line x1="34" y1="663.46" x2="38" y2="663.46" stroke="#333" stroke-width="1.1"/>
<text x="31" y="665.83" font-size="6.6" text-anchor="end" fill="#3F3F3F">20%</text>
<line x1="34" y1="646.71" x2="38" y2="646.71" stroke="#333" stroke-width="1.1"/>
<text x="31" y="649.09" font-size="6.6" text-anchor="end" fill="#3F3F3F">30%</text>
<line x1="34" y1="629.97" x2="38" y2="629.97" stroke="#333" stroke-width="1.1"/>
<text x="31" y="632.34" font-size="6.6" text-anchor="end" fill="#3F3F3F">40%</text>
<line x1="34" y1="613.22" x2="38" y2="613.22" stroke="#333" stroke-width="1.1"/>
<text x="31" y="615.6" font-size="6.6" text-anchor="end" fill="#3F3F3F">50%</text>
<line x1="34" y1="596.48" x2="38" y2="596.48" stroke="#333" stroke-width="1.1"/>
<text x="31" y="598.85" font-size="6.6" text-anchor="end" fill="#3F3F3F">60%</text>
<line x1="34" y1="579.73" x2="38" y2="579.73" stroke="#333" stroke-width="1.1"/>
<text x="31" y="582.11" font-size="6.6" text-anchor="end" fill="#3F3F3F">70%</text>
<line x1="34" y1="562.99" x2="38" y2="562.99" stroke="#333" stroke-width="1.1"/>
<text x="31" y="565.36" font-size="6.6" text-anchor="end" fill="#3F3F3F">80%</text>
<line x1="34" y1="546.24" x2="38" y2="546.24" stroke="#333" stroke-width="1.1"/>
<text x="31" y="548.62" font-size="6.6" text-anchor="end" fill="#3F3F3F">90%</text>
<line x1="34" y1="529.5" x2="38" y2="529.5" stroke="#333" stroke-width="1.1"/>
<text x="31" y="531.88" font-size="6.6" text-anchor="end" fill="#3F3F3F">100%</text>
<line x1="64.4" y1="687.5" x2="64.4" y2="691.3" stroke="#333" stroke-width="1.1"/>
<text x="65" y="700.6" font-size="6.9" text-anchor="end" fill="#3F3F3F" font-style="italic" transform="rotate(-10 65 700.6)">S. cerevisiae</text>
<line x1="108.43" y1="687.5" x2="108.43" y2="691.3" stroke="#333" stroke-width="1.1"/>
<text x="109.03" y="700.6" font-size="6.9" text-anchor="end" fill="#3F3F3F" font-style="italic" transform="rotate(-10 109.03 700.6)">A. thaliana</text>
<line x1="152.46" y1="687.5" x2="152.46" y2="691.3" stroke="#333" stroke-width="1.1"/>
<text x="153.06" y="700.6" font-size="6.9" text-anchor="end" fill="#3F3F3F" font-style="italic" transform="rotate(-10 153.06 700.6)">D. melanogaster</text>
<line x1="196.49" y1="687.5" x2="196.49" y2="691.3" stroke="#333" stroke-width="1.1"/>
<text x="197.09" y="700.6" font-size="6.9" text-anchor="end" fill="#3F3F3F" font-style="italic" transform="rotate(-10 197.09 700.6)">B. taurus</text>
<line x1="240.52" y1="687.5" x2="240.52" y2="691.3" stroke="#333" stroke-width="1.1"/>
<text x="241.12" y="700.6" font-size="6.9" text-anchor="end" fill="#3F3F3F" font-style="italic" transform="rotate(-10 241.12 700.6)">A. thaliana</text>
<line x1="284.55" y1="687.5" x2="284.55" y2="691.3" stroke="#333" stroke-width="1.1"/>
<text x="285.15" y="700.6" font-size="6.9" text-anchor="end" fill="#3F3F3F" font-style="italic" transform="rotate(-10 285.15 700.6)">B. taurus</text>
<line x1="328.58" y1="687.5" x2="328.58" y2="691.3" stroke="#333" stroke-width="1.1"/>
<text x="329.18" y="700.6" font-size="6.9" text-anchor="end" fill="#3F3F3F" transform="rotate(-10 329.18 700.6)">HG002</text>
<line x1="64.4" y1="713.5" x2="197.09" y2="713.5" stroke="#666" stroke-width="1.3"/>
<line x1="240.52" y1="713.5" x2="329.18" y2="713.5" stroke="#666" stroke-width="1.3"/>
<text x="130.44" y="725.38" font-size="8" text-anchor="middle">PacBio CLR</text>
<text x="284.55" y="725.38" font-size="8" text-anchor="middle">ONT</text>
<rect x="362.4" y="521.4" width="317" height="166.1" fill="#fff"/>
<line x1="362.4" y1="680.2" x2="679.4" y2="680.2" stroke="#E6E6E6" stroke-width="1.2"/>
<line x1="362.4" y1="663.46" x2="679.4" y2="663.46" stroke="#E6E6E6" stroke-width="1.2"/>
<line x1="362.4" y1="646.71" x2="679.4" y2="646.71" stroke="#E6E6E6" stroke-width="1.2"/>
<line x1="362.4" y1="629.97" x2="679.4" y2="629.97" stroke="#E6E6E6" stroke-width="1.2"/>
<line x1="362.4" y1="613.22" x2="679.4" y2="613.22" stroke="#E6E6E6" stroke-width="1.2"/>
<line x1="362.4" y1="596.48" x2="679.4" y2="596.48" stroke="#E6E6E6" stroke-width="1.2"/>
<line x1="362.4" y1="579.73" x2="679.4" y2="579.73" stroke="#E6E6E6" stroke-width="1.2"/>
<line x1="362.4" y1="562.99" x2="679.4" y2="562.99" stroke="#E6E6E6" stroke-width="1.2"/>
<line x1="362.4" y1="546.24" x2="679.4" y2="546.24" stroke="#E6E6E6" stroke-width="1.2"/>
<line x1="362.4" y1="529.5" x2="679.4" y2="529.5" stroke="#E6E6E6" stroke-width="1.2"/>
<line x1="362.4" y1="671.83" x2="679.4" y2="671.83" stroke="#C8C8C8" stroke-width="0.8" stroke-dasharray="1.5,1.6"/>
<line x1="362.4" y1="655.08" x2="679.4" y2="655.08" stroke="#C8C8C8" stroke-width="0.8" stroke-dasharray="1.5,1.6"/>
<line x1="362.4" y1="638.34" x2="679.4" y2="638.34" stroke="#C8C8C8" stroke-width="0.8" stroke-dasharray="1.5,1.6"/>
<line x1="362.4" y1="621.59" x2="679.4" y2="621.59" stroke="#C8C8C8" stroke-width="0.8" stroke-dasharray="1.5,1.6"/>
<line x1="362.4" y1="604.85" x2="679.4" y2="604.85" stroke="#C8C8C8" stroke-width="0.8" stroke-dasharray="1.5,1.6"/>
<line x1="362.4" y1="588.11" x2="679.4" y2="588.11" stroke="#C8C8C8" stroke-width="0.8" stroke-dasharray="1.5,1.6"/>
<line x1="362.4" y1="571.36" x2="679.4" y2="571.36" stroke="#C8C8C8" stroke-width="0.8" stroke-dasharray="1.5,1.6"/>
<line x1="362.4" y1="554.62" x2="679.4" y2="554.62" stroke="#C8C8C8" stroke-width="0.8" stroke-dasharray="1.5,1.6"/>
<line x1="362.4" y1="537.87" x2="679.4" y2="537.87" stroke="#C8C8C8" stroke-width="0.8" stroke-dasharray="1.5,1.6"/>
<line x1="388.7" y1="521.4" x2="388.7" y2="687.5" stroke="#D0D0D0" stroke-width="0.9"/>
<line x1="432.73" y1="521.4" x2="432.73" y2="687.5" stroke="#D0D0D0" stroke-width="0.9"/>
<line x1="476.76" y1="521.4" x2="476.76" y2="687.5" stroke="#D0D0D0" stroke-width="0.9"/>
<line x1="520.79" y1="521.4" x2="520.79" y2="687.5" stroke="#D0D0D0" stroke-width="0.9"/>
<line x1="564.82" y1="521.4" x2="564.82" y2="687.5" stroke="#D0D0D0" stroke-width="0.9"/>
<line x1="608.85" y1="521.4" x2="608.85" y2="687.5" stroke="#D0D0D0" stroke-width="0.9"/>
<line x1="652.88" y1="521.4" x2="652.88" y2="687.5" stroke="#D0D0D0" stroke-width="0.9"/>
<rect x="369.38" y="633.82" width="6.85" height="46.38" fill="#377EB8"/>
<rect x="377.32" y="538.54" width="6.85" height="141.66" fill="#4DAF4A"/>
<rect x="385.27" y="573.87" width="6.85" height="106.33" fill="#984EA3"/>
<rect x="393.23" y="544.9" width="6.85" height="135.3" fill="#FF7F00"/>
<rect x="401.18" y="531.34" width="6.85" height="148.86" fill="#A65628"/>
<rect x="413.41" y="629.3" width="6.85" height="50.9" fill="#377EB8"/>
<rect x="421.36" y="532.68" width="6.85" height="147.52" fill="#4DAF4A"/>
<rect x="429.31" y="545.41" width="6.85" height="134.79" fill="#984EA3"/>
<rect x="437.26" y="534.86" width="6.85" height="145.34" fill="#FF7F00"/>
<rect x="445.21" y="530.84" width="6.85" height="149.36" fill="#A65628"/>
<rect x="457.44" y="590.78" width="6.85" height="89.42" fill="#377EB8"/>
<rect x="465.38" y="539.71" width="6.85" height="140.49" fill="#4DAF4A"/>
<rect x="473.33" y="544.57" width="6.85" height="135.63" fill="#984EA3"/>
<rect x="481.29" y="543.4" width="6.85" height="136.8" fill="#FF7F00"/>
<rect x="489.24" y="537.54" width="6.85" height="142.66" fill="#A65628"/>
<rect x="509.41" y="675.34" width="6.85" height="4.86" fill="#377EB8"/>
<rect x="517.36" y="548.25" width="6.85" height="131.95" fill="#FF7F00"/>
<rect x="525.31" y="533.85" width="6.85" height="146.35" fill="#A65628"/>
<rect x="549.47" y="545.41" width="6.85" height="134.79" fill="#377EB8"/>
<rect x="557.42" y="544.57" width="6.85" height="135.63" fill="#4DAF4A"/>
<rect x="565.37" y="547.25" width="6.85" height="132.95" fill="#999999"/>
<rect x="573.32" y="534.36" width="6.85" height="145.84" fill="#A65628"/>
<rect x="597.48" y="580.4" width="6.85" height="99.8" fill="#377EB8"/>
<rect x="605.43" y="562.15" width="6.85" height="118.05" fill="#999999"/>
<rect x="613.38" y="540.38" width="6.85" height="139.82" fill="#A65628"/>
<rect x="641.5" y="530.84" width="6.85" height="149.36" fill="#377EB8"/>
<rect x="649.46" y="571.19" width="6.85" height="109.01" fill="#999999"/>
<rect x="657.4" y="530.34" width="6.85" height="149.86" fill="#A65628"/>
<rect x="362.4" y="521.4" width="317" height="166.1" fill="none" stroke="#5A5A5A" stroke-width="1"/>
<rect x="362.4" y="502.9" width="317" height="18.5" fill="#D9D9D9" stroke="#484848" stroke-width="1.05"/>
<text x="520.9" y="514.88" font-size="7.45" text-anchor="middle" fill="#1A1A1A">Paternal</text>
<line x1="388.7" y1="687.5" x2="388.7" y2="691.3" stroke="#333" stroke-width="1.1"/>
<text x="389.3" y="700.6" font-size="6.9" text-anchor="end" fill="#3F3F3F" font-style="italic" transform="rotate(-10 389.3 700.6)">S. cerevisiae</text>
<line x1="432.73" y1="687.5" x2="432.73" y2="691.3" stroke="#333" stroke-width="1.1"/>
<text x="433.33" y="700.6" font-size="6.9" text-anchor="end" fill="#3F3F3F" font-style="italic" transform="rotate(-10 433.33 700.6)">A. thaliana</text>
<line x1="476.76" y1="687.5" x2="476.76" y2="691.3" stroke="#333" stroke-width="1.1"/>
<text x="477.36" y="700.6" font-size="6.9" text-anchor="end" fill="#3F3F3F" font-style="italic" transform="rotate(-10 477.36 700.6)">D. melanogaster</text>
<line x1="520.79" y1="687.5" x2="520.79" y2="691.3" stroke="#333" stroke-width="1.1"/>
<text x="521.39" y="700.6" font-size="6.9" text-anchor="end" fill="#3F3F3F" font-style="italic" transform="rotate(-10 521.39 700.6)">B. taurus</text>
<line x1="564.82" y1="687.5" x2="564.82" y2="691.3" stroke="#333" stroke-width="1.1"/>
<text x="565.42" y="700.6" font-size="6.9" text-anchor="end" fill="#3F3F3F" font-style="italic" transform="rotate(-10 565.42 700.6)">A. thaliana</text>
<line x1="608.85" y1="687.5" x2="608.85" y2="691.3" stroke="#333" stroke-width="1.1"/>
<text x="609.45" y="700.6" font-size="6.9" text-anchor="end" fill="#3F3F3F" font-style="italic" transform="rotate(-10 609.45 700.6)">B. taurus</text>
<line x1="652.88" y1="687.5" x2="652.88" y2="691.3" stroke="#333" stroke-width="1.1"/>
<text x="653.48" y="700.6" font-size="6.9" text-anchor="end" fill="#3F3F3F" transform="rotate(-10 653.48 700.6)">HG002</text>
<line x1="388.7" y1="713.5" x2="521.39" y2="713.5" stroke="#666" stroke-width="1.3"/>
<line x1="564.82" y1="713.5" x2="653.48" y2="713.5" stroke="#666" stroke-width="1.3"/>
<text x="454.75" y="725.38" font-size="8" text-anchor="middle">PacBio CLR</text>
<text x="608.85" y="725.38" font-size="8" text-anchor="middle">ONT</text>
<text x="8.9" y="604.4" font-size="8.1" text-anchor="middle" transform="rotate(-90 8.9 604.4)">Completeness</text>
<rect x="212.8" y="743.4" width="7.6" height="7.6" fill="#377EB8"/>
<text x="226.5" y="749.97" font-size="7.7">raw reads</text>
<rect x="266.8" y="743.4" width="7.6" height="7.6" fill="#4DAF4A"/>
<text x="279.9" y="749.97" font-size="7.7">Canu</text>
<rect x="302.4" y="743.4" width="7.6" height="7.6" fill="#984EA3"/>
<text x="316.4" y="749.97" font-size="7.7">FALCON</text>
<rect x="349.9" y="743.4" width="7.6" height="7.6" fill="#FF7F00"/>
<text x="363.6" y="749.97" font-size="7.7">MECAT2</text>
<rect x="397.4" y="743.4" width="7.6" height="7.6" fill="#999999"/>
<text x="410.5" y="749.97" font-size="7.7">NECAT</text>
<rect x="439.6" y="743.4" width="7.6" height="7.6" fill="#A65628"/>
<text x="452.8" y="749.97" font-size="7.7">PECAT</text>
<rect x="40.2" y="803.2" width="121.2" height="120.7" fill="#fff"/>
<line x1="45.15" y1="803.2" x2="45.15" y2="923.9" stroke="#EBEBEB" stroke-width="1.1"/>
<line x1="40.2" y1="919.7" x2="161.4" y2="919.7" stroke="#EBEBEB" stroke-width="1.1"/>
<line x1="59.05" y1="803.2" x2="59.05" y2="923.9" stroke="#EBEBEB" stroke-width="0.7"/>
<line x1="40.2" y1="905.8" x2="161.4" y2="905.8" stroke="#EBEBEB" stroke-width="0.7"/>
<line x1="72.95" y1="803.2" x2="72.95" y2="923.9" stroke="#EBEBEB" stroke-width="1.1"/>
<line x1="40.2" y1="891.9" x2="161.4" y2="891.9" stroke="#EBEBEB" stroke-width="1.1"/>
<line x1="86.85" y1="803.2" x2="86.85" y2="923.9" stroke="#EBEBEB" stroke-width="0.7"/>
<line x1="40.2" y1="878" x2="161.4" y2="878" stroke="#EBEBEB" stroke-width="0.7"/>
<line x1="100.75" y1="803.2" x2="100.75" y2="923.9" stroke="#EBEBEB" stroke-width="1.1"/>
<line x1="40.2" y1="864.1" x2="161.4" y2="864.1" stroke="#EBEBEB" stroke-width="1.1"/>
<line x1="114.65" y1="803.2" x2="114.65" y2="923.9" stroke="#EBEBEB" stroke-width="0.7"/>
<line x1="40.2" y1="850.2" x2="161.4" y2="850.2" stroke="#EBEBEB" stroke-width="0.7"/>
<line x1="128.55" y1="803.2" x2="128.55" y2="923.9" stroke="#EBEBEB" stroke-width="1.1"/>
<line x1="40.2" y1="836.3" x2="161.4" y2="836.3" stroke="#EBEBEB" stroke-width="1.1"/>
<line x1="142.45" y1="803.2" x2="142.45" y2="923.9" stroke="#EBEBEB" stroke-width="0.7"/>
<line x1="40.2" y1="822.4" x2="161.4" y2="822.4" stroke="#EBEBEB" stroke-width="0.7"/>
<line x1="156.35" y1="803.2" x2="156.35" y2="923.9" stroke="#EBEBEB" stroke-width="1.1"/>
<line x1="40.2" y1="808.5" x2="161.4" y2="808.5" stroke="#EBEBEB" stroke-width="1.1"/>
<path d="M43.15,922 L43.15,906.3 L43.85,904.6 L45.45,904 L47.05,904.6 L47.65,906.1 L47.85,909.7 L48.55,911.7 L50.15,914.2 L52.45,915.9 L55.15,917.1 L62.15,917.3 L64.65,917.4 L66.45,918.3 L67.05,919.7 L66.45,921.2 L64.65,922 Z" fill="#F8766D" stroke="#F8766D" stroke-width="0.5" stroke-linejoin="round"/>
<rect x="40.2" y="803.2" width="121.2" height="120.7" fill="none" stroke="#474747" stroke-width="1.05"/>
<line x1="45.15" y1="923.9" x2="45.15" y2="927.5" stroke="#333" stroke-width="1.1"/>
<text x="45.15" y="937.8" font-size="8" text-anchor="middle" fill="#3F3F3F">0.0</text>
<line x1="36.2" y1="919.7" x2="40.2" y2="919.7" stroke="#333" stroke-width="1.1"/>
<text x="33.1" y="922.58" font-size="8" text-anchor="end" fill="#3F3F3F">0.0</text>
<line x1="72.95" y1="923.9" x2="72.95" y2="927.5" stroke="#333" stroke-width="1.1"/>
<text x="72.95" y="937.8" font-size="8" text-anchor="middle" fill="#3F3F3F">0.1</text>
<line x1="36.2" y1="891.9" x2="40.2" y2="891.9" stroke="#333" stroke-width="1.1"/>
<text x="33.1" y="894.78" font-size="8" text-anchor="end" fill="#3F3F3F">0.1</text>
<line x1="100.75" y1="923.9" x2="100.75" y2="927.5" stroke="#333" stroke-width="1.1"/>
<text x="100.75" y="937.8" font-size="8" text-anchor="middle" fill="#3F3F3F">0.2</text>
<line x1="36.2" y1="864.1" x2="40.2" y2="864.1" stroke="#333" stroke-width="1.1"/>
<text x="33.1" y="866.98" font-size="8" text-anchor="end" fill="#3F3F3F">0.2</text>
<line x1="128.55" y1="923.9" x2="128.55" y2="927.5" stroke="#333" stroke-width="1.1"/>
<text x="128.55" y="937.8" font-size="8" text-anchor="middle" fill="#3F3F3F">0.3</text>
<line x1="36.2" y1="836.3" x2="40.2" y2="836.3" stroke="#333" stroke-width="1.1"/>
<text x="33.1" y="839.18" font-size="8" text-anchor="end" fill="#3F3F3F">0.3</text>
<line x1="156.35" y1="923.9" x2="156.35" y2="927.5" stroke="#333" stroke-width="1.1"/>
<text x="156.35" y="937.8" font-size="8" text-anchor="middle" fill="#3F3F3F">0.4</text>
<line x1="36.2" y1="808.5" x2="40.2" y2="808.5" stroke="#333" stroke-width="1.1"/>
<text x="33.1" y="811.38" font-size="8" text-anchor="end" fill="#3F3F3F">0.4</text>
<text x="100.8" y="796.5" font-size="11" text-anchor="middle" fill="#1A1A1A">raw reads (CLR)</text>
<rect x="169.8" y="803.2" width="121.2" height="120.7" fill="#fff"/>
<line x1="174.75" y1="803.2" x2="174.75" y2="923.9" stroke="#EBEBEB" stroke-width="1.1"/>
<line x1="169.8" y1="919.7" x2="291" y2="919.7" stroke="#EBEBEB" stroke-width="1.1"/>
<line x1="188.65" y1="803.2" x2="188.65" y2="923.9" stroke="#EBEBEB" stroke-width="0.7"/>
<line x1="169.8" y1="905.8" x2="291" y2="905.8" stroke="#EBEBEB" stroke-width="0.7"/>
<line x1="202.55" y1="803.2" x2="202.55" y2="923.9" stroke="#EBEBEB" stroke-width="1.1"/>
<line x1="169.8" y1="891.9" x2="291" y2="891.9" stroke="#EBEBEB" stroke-width="1.1"/>
<line x1="216.45" y1="803.2" x2="216.45" y2="923.9" stroke="#EBEBEB" stroke-width="0.7"/>
<line x1="169.8" y1="878" x2="291" y2="878" stroke="#EBEBEB" stroke-width="0.7"/>
<line x1="230.35" y1="803.2" x2="230.35" y2="923.9" stroke="#EBEBEB" stroke-width="1.1"/>
<line x1="169.8" y1="864.1" x2="291" y2="864.1" stroke="#EBEBEB" stroke-width="1.1"/>
<line x1="244.25" y1="803.2" x2="244.25" y2="923.9" stroke="#EBEBEB" stroke-width="0.7"/>
<line x1="169.8" y1="850.2" x2="291" y2="850.2" stroke="#EBEBEB" stroke-width="0.7"/>
<line x1="258.15" y1="803.2" x2="258.15" y2="923.9" stroke="#EBEBEB" stroke-width="1.1"/>
<line x1="169.8" y1="836.3" x2="291" y2="836.3" stroke="#EBEBEB" stroke-width="1.1"/>
<line x1="272.05" y1="803.2" x2="272.05" y2="923.9" stroke="#EBEBEB" stroke-width="0.7"/>
<line x1="169.8" y1="822.4" x2="291" y2="822.4" stroke="#EBEBEB" stroke-width="0.7"/>
<line x1="285.95" y1="803.2" x2="285.95" y2="923.9" stroke="#EBEBEB" stroke-width="1.1"/>
<line x1="169.8" y1="808.5" x2="291" y2="808.5" stroke="#EBEBEB" stroke-width="1.1"/>
<path d="M172.25,921.8 L172.25,872.7 L173.55,870.2 L174.75,869.5 L176.15,870.8 L178.55,875.4 L180.85,881.3 L183.15,887.1 L184.75,890.6 L187.65,894.7 L190.55,898.8 L193.55,901.7 L198.15,904.6 L201.15,908.1 L205.15,909.9 L209.25,912.8 L213.95,914.5 L218.05,917.4 L220.35,918.5 L220.95,919.7 L220.35,921.1 L219.25,921.8 Z" fill="#A3A500" stroke="#A3A500" stroke-width="0.5" stroke-linejoin="round"/>
<circle cx="174.75" cy="870.5" r="2" fill="#A3A500" fill-opacity="0.25" stroke="#A3A500" stroke-opacity="0.5" stroke-width="0.7"/>
<circle cx="180.75" cy="884.1" r="2" fill="#A3A500" fill-opacity="0.25" stroke="#A3A500" stroke-opacity="0.5" stroke-width="0.7"/>
<circle cx="185.65" cy="894.5" r="2" fill="#A3A500" fill-opacity="0.25" stroke="#A3A500" stroke-opacity="0.5" stroke-width="0.7"/>
<circle cx="193.45" cy="902.7" r="2" fill="#A3A500" fill-opacity="0.25" stroke="#A3A500" stroke-opacity="0.5" stroke-width="0.7"/>
<circle cx="206.45" cy="911.2" r="2" fill="#A3A500" fill-opacity="0.25" stroke="#A3A500" stroke-opacity="0.5" stroke-width="0.7"/>
<circle cx="213.95" cy="914.2" r="2" fill="#A3A500" fill-opacity="0.25" stroke="#A3A500" stroke-opacity="0.5" stroke-width="0.7"/>
<circle cx="225.85" cy="919.7" r="2" fill="#A3A500" fill-opacity="0.35" stroke="#A3A500" stroke-opacity="0.55" stroke-width="0.7"/>
<circle cx="228.95" cy="919.7" r="2" fill="#A3A500" fill-opacity="0.35" stroke="#A3A500" stroke-opacity="0.55" stroke-width="0.7"/>
<circle cx="230.35" cy="919.7" r="2" fill="#A3A500" fill-opacity="0.35" stroke="#A3A500" stroke-opacity="0.55" stroke-width="0.7"/>
<circle cx="242.75" cy="919.7" r="2" fill="#A3A500" fill-opacity="0.35" stroke="#A3A500" stroke-opacity="0.55" stroke-width="0.7"/>
<circle cx="245.75" cy="919.7" r="2" fill="#A3A500" fill-opacity="0.35" stroke="#A3A500" stroke-opacity="0.55" stroke-width="0.7"/>
<circle cx="248.65" cy="919.7" r="2" fill="#A3A500" fill-opacity="0.35" stroke="#A3A500" stroke-opacity="0.55" stroke-width="0.7"/>
<circle cx="252.15" cy="919.7" r="2" fill="#A3A500" fill-opacity="0.35" stroke="#A3A500" stroke-opacity="0.55" stroke-width="0.7"/>
<circle cx="255.05" cy="919.7" r="2" fill="#A3A500" fill-opacity="0.35" stroke="#A3A500" stroke-opacity="0.55" stroke-width="0.7"/>
<circle cx="258.55" cy="919.7" r="2" fill="#A3A500" fill-opacity="0.35" stroke="#A3A500" stroke-opacity="0.55" stroke-width="0.7"/>
<circle cx="263.75" cy="919.7" r="2" fill="#A3A500" fill-opacity="0.35" stroke="#A3A500" stroke-opacity="0.55" stroke-width="0.7"/>
<rect x="169.8" y="803.2" width="121.2" height="120.7" fill="none" stroke="#474747" stroke-width="1.05"/>
<line x1="174.75" y1="923.9" x2="174.75" y2="927.5" stroke="#333" stroke-width="1.1"/>
<text x="174.75" y="937.8" font-size="8" text-anchor="middle" fill="#3F3F3F">0.0</text>
<line x1="202.55" y1="923.9" x2="202.55" y2="927.5" stroke="#333" stroke-width="1.1"/>
<text x="202.55" y="937.8" font-size="8" text-anchor="middle" fill="#3F3F3F">0.1</text>
<line x1="230.35" y1="923.9" x2="230.35" y2="927.5" stroke="#333" stroke-width="1.1"/>
<text x="230.35" y="937.8" font-size="8" text-anchor="middle" fill="#3F3F3F">0.2</text>
<line x1="258.15" y1="923.9" x2="258.15" y2="927.5" stroke="#333" stroke-width="1.1"/>
<text x="258.15" y="937.8" font-size="8" text-anchor="middle" fill="#3F3F3F">0.3</text>
<line x1="285.95" y1="923.9" x2="285.95" y2="927.5" stroke="#333" stroke-width="1.1"/>
<text x="285.95" y="937.8" font-size="8" text-anchor="middle" fill="#3F3F3F">0.4</text>
<text x="230.4" y="796.5" font-size="11" text-anchor="middle" fill="#1A1A1A">Canu</text>
<rect x="299.4" y="803.2" width="121.2" height="120.7" fill="#fff"/>
<line x1="304.35" y1="803.2" x2="304.35" y2="923.9" stroke="#EBEBEB" stroke-width="1.1"/>
<line x1="299.4" y1="919.7" x2="420.6" y2="919.7" stroke="#EBEBEB" stroke-width="1.1"/>
<line x1="318.25" y1="803.2" x2="318.25" y2="923.9" stroke="#EBEBEB" stroke-width="0.7"/>
<line x1="299.4" y1="905.8" x2="420.6" y2="905.8" stroke="#EBEBEB" stroke-width="0.7"/>
<line x1="332.15" y1="803.2" x2="332.15" y2="923.9" stroke="#EBEBEB" stroke-width="1.1"/>
<line x1="299.4" y1="891.9" x2="420.6" y2="891.9" stroke="#EBEBEB" stroke-width="1.1"/>
<line x1="346.05" y1="803.2" x2="346.05" y2="923.9" stroke="#EBEBEB" stroke-width="0.7"/>
<line x1="299.4" y1="878" x2="420.6" y2="878" stroke="#EBEBEB" stroke-width="0.7"/>
<line x1="359.95" y1="803.2" x2="359.95" y2="923.9" stroke="#EBEBEB" stroke-width="1.1"/>
<line x1="299.4" y1="864.1" x2="420.6" y2="864.1" stroke="#EBEBEB" stroke-width="1.1"/>
<line x1="373.85" y1="803.2" x2="373.85" y2="923.9" stroke="#EBEBEB" stroke-width="0.7"/>
<line x1="299.4" y1="850.2" x2="420.6" y2="850.2" stroke="#EBEBEB" stroke-width="0.7"/>
<line x1="387.75" y1="803.2" x2="387.75" y2="923.9" stroke="#EBEBEB" stroke-width="1.1"/>
<line x1="299.4" y1="836.3" x2="420.6" y2="836.3" stroke="#EBEBEB" stroke-width="1.1"/>
<line x1="401.65" y1="803.2" x2="401.65" y2="923.9" stroke="#EBEBEB" stroke-width="0.7"/>
<line x1="299.4" y1="822.4" x2="420.6" y2="822.4" stroke="#EBEBEB" stroke-width="0.7"/>
<line x1="415.55" y1="803.2" x2="415.55" y2="923.9" stroke="#EBEBEB" stroke-width="1.1"/>
<line x1="299.4" y1="808.5" x2="420.6" y2="808.5" stroke="#EBEBEB" stroke-width="1.1"/>
<path d="M302.15,921.8 L302.15,867.7 L303.05,865.4 L304.35,864.7 L305.75,865.2 L306.35,866.2 L306.95,873.4 L309.25,875.8 L310.75,879.3 L311.65,883.4 L315.15,889.2 L316.85,892.7 L316.65,896.7 L318.55,900.2 L322.25,903.9 L329.55,908.2 L336.85,911.9 L344.15,915.2 L349.25,917 L354.35,917.9 L361.65,917.9 L363.65,918.7 L364.25,919.7 L363.65,920.9 L361.65,921.8 Z" fill="#00BF7D" stroke="#00BF7D" stroke-width="0.5" stroke-linejoin="round"/>
<circle cx="304.35" cy="866.8" r="2" fill="#00BF7D" fill-opacity="0.25" stroke="#00BF7D" stroke-opacity="0.5" stroke-width="0.7"/>
<circle cx="306.25" cy="873.7" r="2" fill="#00BF7D" fill-opacity="0.25" stroke="#00BF7D" stroke-opacity="0.5" stroke-width="0.7"/>
<circle cx="313.25" cy="886.1" r="2" fill="#00BF7D" fill-opacity="0.25" stroke="#00BF7D" stroke-opacity="0.5" stroke-width="0.7"/>
<circle cx="316.55" cy="893.2" r="2" fill="#00BF7D" fill-opacity="0.25" stroke="#00BF7D" stroke-opacity="0.5" stroke-width="0.7"/>
<circle cx="322.45" cy="904.9" r="2" fill="#00BF7D" fill-opacity="0.25" stroke="#00BF7D" stroke-opacity="0.5" stroke-width="0.7"/>
<circle cx="331.05" cy="910.2" r="2" fill="#00BF7D" fill-opacity="0.25" stroke="#00BF7D" stroke-opacity="0.5" stroke-width="0.7"/>
<circle cx="342.05" cy="915.7" r="2" fill="#00BF7D" fill-opacity="0.25" stroke="#00BF7D" stroke-opacity="0.5" stroke-width="0.7"/>
<circle cx="352.35" cy="919.7" r="2" fill="#00BF7D" fill-opacity="0.35" stroke="#00BF7D" stroke-opacity="0.55" stroke-width="0.7"/>
<circle cx="355.35" cy="919.7" r="2" fill="#00BF7D" fill-opacity="0.35" stroke="#00BF7D" stroke-opacity="0.55" stroke-width="0.7"/>
<circle cx="357.85" cy="919.7" r="2" fill="#00BF7D" fill-opacity="0.35" stroke="#00BF7D" stroke-opacity="0.55" stroke-width="0.7"/>
<circle cx="360.35" cy="919.7" r="2" fill="#00BF7D" fill-opacity="0.35" stroke="#00BF7D" stroke-opacity="0.55" stroke-width="0.7"/>
<circle cx="362.55" cy="919.7" r="2" fill="#00BF7D" fill-opacity="0.35" stroke="#00BF7D" stroke-opacity="0.55" stroke-width="0.7"/>
<circle cx="371.95" cy="919.7" r="2" fill="#00BF7D" fill-opacity="0.35" stroke="#00BF7D" stroke-opacity="0.55" stroke-width="0.7"/>
<circle cx="375.45" cy="919.7" r="2" fill="#00BF7D" fill-opacity="0.35" stroke="#00BF7D" stroke-opacity="0.55" stroke-width="0.7"/>
<circle cx="381.25" cy="919.7" r="2" fill="#00BF7D" fill-opacity="0.35" stroke="#00BF7D" stroke-opacity="0.55" stroke-width="0.7"/>
<circle cx="384.75" cy="919.7" r="2" fill="#00BF7D" fill-opacity="0.35" stroke="#00BF7D" stroke-opacity="0.55" stroke-width="0.7"/>
<circle cx="388.25" cy="919.7" r="2" fill="#00BF7D" fill-opacity="0.35" stroke="#00BF7D" stroke-opacity="0.55" stroke-width="0.7"/>
<circle cx="392.95" cy="919.7" r="2" fill="#00BF7D" fill-opacity="0.35" stroke="#00BF7D" stroke-opacity="0.55" stroke-width="0.7"/>
<circle cx="396.45" cy="919.7" r="2" fill="#00BF7D" fill-opacity="0.35" stroke="#00BF7D" stroke-opacity="0.55" stroke-width="0.7"/>
<circle cx="401.15" cy="919.7" r="2" fill="#00BF7D" fill-opacity="0.35" stroke="#00BF7D" stroke-opacity="0.55" stroke-width="0.7"/>
<circle cx="406.95" cy="919.7" r="2" fill="#00BF7D" fill-opacity="0.35" stroke="#00BF7D" stroke-opacity="0.55" stroke-width="0.7"/>
<circle cx="410.45" cy="919.7" r="2" fill="#00BF7D" fill-opacity="0.35" stroke="#00BF7D" stroke-opacity="0.55" stroke-width="0.7"/>
<circle cx="414.55" cy="919.7" r="2" fill="#00BF7D" fill-opacity="0.35" stroke="#00BF7D" stroke-opacity="0.55" stroke-width="0.7"/>
<circle cx="412.35" cy="919.7" r="2" fill="#00BF7D" fill-opacity="0.35" stroke="#00BF7D" stroke-opacity="0.55" stroke-width="0.7"/>
<rect x="299.4" y="803.2" width="121.2" height="120.7" fill="none" stroke="#474747" stroke-width="1.05"/>
<line x1="304.35" y1="923.9" x2="304.35" y2="927.5" stroke="#333" stroke-width="1.1"/>
<text x="304.35" y="937.8" font-size="8" text-anchor="middle" fill="#3F3F3F">0.0</text>
<line x1="332.15" y1="923.9" x2="332.15" y2="927.5" stroke="#333" stroke-width="1.1"/>
<text x="332.15" y="937.8" font-size="8" text-anchor="middle" fill="#3F3F3F">0.1</text>
<line x1="359.95" y1="923.9" x2="359.95" y2="927.5" stroke="#333" stroke-width="1.1"/>
<text x="359.95" y="937.8" font-size="8" text-anchor="middle" fill="#3F3F3F">0.2</text>
<line x1="387.75" y1="923.9" x2="387.75" y2="927.5" stroke="#333" stroke-width="1.1"/>
<text x="387.75" y="937.8" font-size="8" text-anchor="middle" fill="#3F3F3F">0.3</text>
<line x1="415.55" y1="923.9" x2="415.55" y2="927.5" stroke="#333" stroke-width="1.1"/>
<text x="415.55" y="937.8" font-size="8" text-anchor="middle" fill="#3F3F3F">0.4</text>
<text x="360" y="796.5" font-size="11" text-anchor="middle" fill="#1A1A1A">FALCON</text>
<rect x="429" y="803.2" width="121.2" height="120.7" fill="#fff"/>
<line x1="433.95" y1="803.2" x2="433.95" y2="923.9" stroke="#EBEBEB" stroke-width="1.1"/>
<line x1="429" y1="919.7" x2="550.2" y2="919.7" stroke="#EBEBEB" stroke-width="1.1"/>
<line x1="447.85" y1="803.2" x2="447.85" y2="923.9" stroke="#EBEBEB" stroke-width="0.7"/>
<line x1="429" y1="905.8" x2="550.2" y2="905.8" stroke="#EBEBEB" stroke-width="0.7"/>
<line x1="461.75" y1="803.2" x2="461.75" y2="923.9" stroke="#EBEBEB" stroke-width="1.1"/>
<line x1="429" y1="891.9" x2="550.2" y2="891.9" stroke="#EBEBEB" stroke-width="1.1"/>
<line x1="475.65" y1="803.2" x2="475.65" y2="923.9" stroke="#EBEBEB" stroke-width="0.7"/>
<line x1="429" y1="878" x2="550.2" y2="878" stroke="#EBEBEB" stroke-width="0.7"/>
<line x1="489.55" y1="803.2" x2="489.55" y2="923.9" stroke="#EBEBEB" stroke-width="1.1"/>
<line x1="429" y1="864.1" x2="550.2" y2="864.1" stroke="#EBEBEB" stroke-width="1.1"/>
<line x1="503.45" y1="803.2" x2="503.45" y2="923.9" stroke="#EBEBEB" stroke-width="0.7"/>
<line x1="429" y1="850.2" x2="550.2" y2="850.2" stroke="#EBEBEB" stroke-width="0.7"/>
<line x1="517.35" y1="803.2" x2="517.35" y2="923.9" stroke="#EBEBEB" stroke-width="1.1"/>
<line x1="429" y1="836.3" x2="550.2" y2="836.3" stroke="#EBEBEB" stroke-width="1.1"/>
<line x1="531.25" y1="803.2" x2="531.25" y2="923.9" stroke="#EBEBEB" stroke-width="0.7"/>
<line x1="429" y1="822.4" x2="550.2" y2="822.4" stroke="#EBEBEB" stroke-width="0.7"/>
<line x1="545.15" y1="803.2" x2="545.15" y2="923.9" stroke="#EBEBEB" stroke-width="1.1"/>
<line x1="429" y1="808.5" x2="550.2" y2="808.5" stroke="#EBEBEB" stroke-width="1.1"/>
<path d="M431.25,921.8 L431.25,869.7 L432.25,866.8 L433.95,865.8 L435.55,866.5 L436.25,868.8 L436.55,877.5 L438.25,881 L440.05,885.7 L442.95,888 L445.35,894.5 L447.55,898 L451.25,903.1 L458.55,908.2 L465.85,912.6 L473.15,916.3 L480.45,917.6 L482.75,918.1 L483.75,919.7 L482.75,921.3 L480.45,921.8 Z" fill="#00B0F6" stroke="#00B0F6" stroke-width="0.5" stroke-linejoin="round"/>
<circle cx="433.95" cy="869.7" r="2" fill="#00B0F6" fill-opacity="0.25" stroke="#00B0F6" stroke-opacity="0.5" stroke-width="0.7"/>
<circle cx="442.15" cy="890.5" r="2" fill="#00B0F6" fill-opacity="0.25" stroke="#00B0F6" stroke-opacity="0.5" stroke-width="0.7"/>
<circle cx="450.35" cy="903.5" r="2" fill="#00B0F6" fill-opacity="0.25" stroke="#00B0F6" stroke-opacity="0.5" stroke-width="0.7"/>
<circle cx="457.95" cy="907" r="2" fill="#00B0F6" fill-opacity="0.25" stroke="#00B0F6" stroke-opacity="0.5" stroke-width="0.7"/>
<circle cx="465.65" cy="912.7" r="2" fill="#00B0F6" fill-opacity="0.25" stroke="#00B0F6" stroke-opacity="0.5" stroke-width="0.7"/>
<circle cx="494.15" cy="919.7" r="2" fill="#00B0F6" fill-opacity="0.35" stroke="#00B0F6" stroke-opacity="0.55" stroke-width="0.7"/>
<circle cx="497.05" cy="919.7" r="2" fill="#00B0F6" fill-opacity="0.35" stroke="#00B0F6" stroke-opacity="0.55" stroke-width="0.7"/>
<circle cx="498.45" cy="919.7" r="2" fill="#00B0F6" fill-opacity="0.35" stroke="#00B0F6" stroke-opacity="0.55" stroke-width="0.7"/>
<circle cx="502.85" cy="919.7" r="2" fill="#00B0F6" fill-opacity="0.35" stroke="#00B0F6" stroke-opacity="0.55" stroke-width="0.7"/>
<circle cx="510.75" cy="919.7" r="2" fill="#00B0F6" fill-opacity="0.35" stroke="#00B0F6" stroke-opacity="0.55" stroke-width="0.7"/>
<circle cx="512.45" cy="919.7" r="2" fill="#00B0F6" fill-opacity="0.35" stroke="#00B0F6" stroke-opacity="0.55" stroke-width="0.7"/>
<circle cx="516.15" cy="919.7" r="2" fill="#00B0F6" fill-opacity="0.35" stroke="#00B0F6" stroke-opacity="0.55" stroke-width="0.7"/>
<circle cx="522.95" cy="919.7" r="2" fill="#00B0F6" fill-opacity="0.35" stroke="#00B0F6" stroke-opacity="0.55" stroke-width="0.7"/>
<circle cx="526.95" cy="919.7" r="2" fill="#00B0F6" fill-opacity="0.35" stroke="#00B0F6" stroke-opacity="0.55" stroke-width="0.7"/>
<circle cx="532.35" cy="919.7" r="2" fill="#00B0F6" fill-opacity="0.35" stroke="#00B0F6" stroke-opacity="0.55" stroke-width="0.7"/>
<rect x="429" y="803.2" width="121.2" height="120.7" fill="none" stroke="#474747" stroke-width="1.05"/>
<line x1="433.95" y1="923.9" x2="433.95" y2="927.5" stroke="#333" stroke-width="1.1"/>
<text x="433.95" y="937.8" font-size="8" text-anchor="middle" fill="#3F3F3F">0.0</text>
<line x1="461.75" y1="923.9" x2="461.75" y2="927.5" stroke="#333" stroke-width="1.1"/>
<text x="461.75" y="937.8" font-size="8" text-anchor="middle" fill="#3F3F3F">0.1</text>
<line x1="489.55" y1="923.9" x2="489.55" y2="927.5" stroke="#333" stroke-width="1.1"/>
<text x="489.55" y="937.8" font-size="8" text-anchor="middle" fill="#3F3F3F">0.2</text>
<line x1="517.35" y1="923.9" x2="517.35" y2="927.5" stroke="#333" stroke-width="1.1"/>
<text x="517.35" y="937.8" font-size="8" text-anchor="middle" fill="#3F3F3F">0.3</text>
<line x1="545.15" y1="923.9" x2="545.15" y2="927.5" stroke="#333" stroke-width="1.1"/>
<text x="545.15" y="937.8" font-size="8" text-anchor="middle" fill="#3F3F3F">0.4</text>
<text x="489.6" y="796.5" font-size="11" text-anchor="middle" fill="#1A1A1A">MECAT2</text>
<rect x="558.6" y="803.2" width="121.2" height="120.7" fill="#fff"/>
<line x1="563.55" y1="803.2" x2="563.55" y2="923.9" stroke="#EBEBEB" stroke-width="1.1"/>
<line x1="558.6" y1="919.7" x2="679.8" y2="919.7" stroke="#EBEBEB" stroke-width="1.1"/>
<line x1="577.45" y1="803.2" x2="577.45" y2="923.9" stroke="#EBEBEB" stroke-width="0.7"/>
<line x1="558.6" y1="905.8" x2="679.8" y2="905.8" stroke="#EBEBEB" stroke-width="0.7"/>
<line x1="591.35" y1="803.2" x2="591.35" y2="923.9" stroke="#EBEBEB" stroke-width="1.1"/>
<line x1="558.6" y1="891.9" x2="679.8" y2="891.9" stroke="#EBEBEB" stroke-width="1.1"/>
<line x1="605.25" y1="803.2" x2="605.25" y2="923.9" stroke="#EBEBEB" stroke-width="0.7"/>
<line x1="558.6" y1="878" x2="679.8" y2="878" stroke="#EBEBEB" stroke-width="0.7"/>
<line x1="619.15" y1="803.2" x2="619.15" y2="923.9" stroke="#EBEBEB" stroke-width="1.1"/>
<line x1="558.6" y1="864.1" x2="679.8" y2="864.1" stroke="#EBEBEB" stroke-width="1.1"/>
<line x1="633.05" y1="803.2" x2="633.05" y2="923.9" stroke="#EBEBEB" stroke-width="0.7"/>
<line x1="558.6" y1="850.2" x2="679.8" y2="850.2" stroke="#EBEBEB" stroke-width="0.7"/>
<line x1="646.95" y1="803.2" x2="646.95" y2="923.9" stroke="#EBEBEB" stroke-width="1.1"/>
<line x1="558.6" y1="836.3" x2="679.8" y2="836.3" stroke="#EBEBEB" stroke-width="1.1"/>
<line x1="660.85" y1="803.2" x2="660.85" y2="923.9" stroke="#EBEBEB" stroke-width="0.7"/>
<line x1="558.6" y1="822.4" x2="679.8" y2="822.4" stroke="#EBEBEB" stroke-width="0.7"/>
<line x1="674.75" y1="803.2" x2="674.75" y2="923.9" stroke="#EBEBEB" stroke-width="1.1"/>
<line x1="558.6" y1="808.5" x2="679.8" y2="808.5" stroke="#EBEBEB" stroke-width="1.1"/>
<path d="M561.25,921.9 L561.25,858.1 L562.05,856.4 L563.55,855.8 L565.05,856.4 L565.85,858.1 L565.95,879.7 L566.55,889.7 L567.15,899.7 L567.65,911.7 L568.55,916.7 L571.55,917.1 L620.85,917.3 L622.55,918.1 L623.15,919.7 L622.55,921.3 L620.85,921.9 Z" fill="#E76BF3" stroke="#E76BF3" stroke-width="0.5" stroke-linejoin="round"/>
<circle cx="564.85" cy="876" r="2" fill="#E76BF3" fill-opacity="0.25" stroke="#E76BF3" stroke-opacity="0.5" stroke-width="0.7"/>
<circle cx="565.65" cy="882" r="2" fill="#E76BF3" fill-opacity="0.25" stroke="#E76BF3" stroke-opacity="0.5" stroke-width="0.7"/>
<circle cx="565.75" cy="890.7" r="2" fill="#E76BF3" fill-opacity="0.25" stroke="#E76BF3" stroke-opacity="0.5" stroke-width="0.7"/>
<circle cx="565.75" cy="901.8" r="2" fill="#E76BF3" fill-opacity="0.25" stroke="#E76BF3" stroke-opacity="0.5" stroke-width="0.7"/>
<circle cx="565.05" cy="895.7" r="2" fill="#E76BF3" fill-opacity="0.25" stroke="#E76BF3" stroke-opacity="0.5" stroke-width="0.7"/>
<circle cx="574.05" cy="910.1" r="2" fill="#E76BF3" fill-opacity="0.35" stroke="#E76BF3" stroke-opacity="0.55" stroke-width="0.7"/>
<circle cx="581.05" cy="910.7" r="2" fill="#E76BF3" fill-opacity="0.35" stroke="#E76BF3" stroke-opacity="0.55" stroke-width="0.7"/>
<circle cx="576.95" cy="913" r="2" fill="#E76BF3" fill-opacity="0.35" stroke="#E76BF3" stroke-opacity="0.55" stroke-width="0.7"/>
<circle cx="571.15" cy="916" r="2" fill="#E76BF3" fill-opacity="0.35" stroke="#E76BF3" stroke-opacity="0.55" stroke-width="0.7"/>
<circle cx="583.35" cy="916" r="2" fill="#E76BF3" fill-opacity="0.35" stroke="#E76BF3" stroke-opacity="0.55" stroke-width="0.7"/>
<circle cx="567.05" cy="889.7" r="2" fill="#E76BF3" fill-opacity="0.35" stroke="#E76BF3" stroke-opacity="0.55" stroke-width="0.7"/>
<circle cx="567.05" cy="900.8" r="2" fill="#E76BF3" fill-opacity="0.35" stroke="#E76BF3" stroke-opacity="0.55" stroke-width="0.7"/>
<circle cx="565.95" cy="881" r="2" fill="#E76BF3" fill-opacity="0.35" stroke="#E76BF3" stroke-opacity="0.55" stroke-width="0.7"/>
<circle cx="565.25" cy="875" r="2" fill="#E76BF3" fill-opacity="0.35" stroke="#E76BF3" stroke-opacity="0.55" stroke-width="0.7"/>
<circle cx="566.35" cy="894.7" r="2" fill="#E76BF3" fill-opacity="0.35" stroke="#E76BF3" stroke-opacity="0.55" stroke-width="0.7"/>
<circle cx="624.05" cy="919.7" r="2" fill="#E76BF3" fill-opacity="0.35" stroke="#E76BF3" stroke-opacity="0.55" stroke-width="0.7"/>
<circle cx="625.95" cy="919.7" r="2" fill="#E76BF3" fill-opacity="0.35" stroke="#E76BF3" stroke-opacity="0.55" stroke-width="0.7"/>
<circle cx="628.35" cy="919.7" r="2" fill="#E76BF3" fill-opacity="0.35" stroke="#E76BF3" stroke-opacity="0.55" stroke-width="0.7"/>
<circle cx="629.55" cy="919.7" r="2" fill="#E76BF3" fill-opacity="0.35" stroke="#E76BF3" stroke-opacity="0.55" stroke-width="0.7"/>
<circle cx="641.75" cy="919.7" r="2" fill="#E76BF3" fill-opacity="0.35" stroke="#E76BF3" stroke-opacity="0.55" stroke-width="0.7"/>
<circle cx="644.55" cy="919.7" r="2" fill="#E76BF3" fill-opacity="0.35" stroke="#E76BF3" stroke-opacity="0.55" stroke-width="0.7"/>
<circle cx="647.15" cy="919.7" r="2" fill="#E76BF3" fill-opacity="0.35" stroke="#E76BF3" stroke-opacity="0.55" stroke-width="0.7"/>
<circle cx="651.15" cy="919.7" r="2" fill="#E76BF3" fill-opacity="0.35" stroke="#E76BF3" stroke-opacity="0.55" stroke-width="0.7"/>
<circle cx="656.55" cy="919.7" r="2" fill="#E76BF3" fill-opacity="0.35" stroke="#E76BF3" stroke-opacity="0.55" stroke-width="0.7"/>
<circle cx="660.65" cy="919.7" r="2" fill="#E76BF3" fill-opacity="0.35" stroke="#E76BF3" stroke-opacity="0.55" stroke-width="0.7"/>
<circle cx="668.75" cy="919.7" r="2" fill="#E76BF3" fill-opacity="0.35" stroke="#E76BF3" stroke-opacity="0.55" stroke-width="0.7"/>
<circle cx="672.25" cy="919.7" r="2" fill="#E76BF3" fill-opacity="0.35" stroke="#E76BF3" stroke-opacity="0.55" stroke-width="0.7"/>
<rect x="558.6" y="803.2" width="121.2" height="120.7" fill="none" stroke="#474747" stroke-width="1.05"/>
<line x1="563.55" y1="923.9" x2="563.55" y2="927.5" stroke="#333" stroke-width="1.1"/>
<text x="563.55" y="937.8" font-size="8" text-anchor="middle" fill="#3F3F3F">0.0</text>
<line x1="591.35" y1="923.9" x2="591.35" y2="927.5" stroke="#333" stroke-width="1.1"/>
<text x="591.35" y="937.8" font-size="8" text-anchor="middle" fill="#3F3F3F">0.1</text>
<line x1="619.15" y1="923.9" x2="619.15" y2="927.5" stroke="#333" stroke-width="1.1"/>
<text x="619.15" y="937.8" font-size="8" text-anchor="middle" fill="#3F3F3F">0.2</text>
<line x1="646.95" y1="923.9" x2="646.95" y2="927.5" stroke="#333" stroke-width="1.1"/>
<text x="646.95" y="937.8" font-size="8" text-anchor="middle" fill="#3F3F3F">0.3</text>
<line x1="674.75" y1="923.9" x2="674.75" y2="927.5" stroke="#333" stroke-width="1.1"/>
<text x="674.75" y="937.8" font-size="8" text-anchor="middle" fill="#3F3F3F">0.4</text>
<text x="619.2" y="796.5" font-size="11" text-anchor="middle" fill="#1A1A1A">PECAT</text>
<text x="359.8" y="948.1" font-size="8.2" text-anchor="middle">Proportion of ISO1 specific k-mers</text>
<text x="8.3" y="864.9" font-size="8.2" text-anchor="middle" transform="rotate(-90 8.3 864.9)">Proportion of</text>
<text x="17.5" y="864.3" font-size="8.2" text-anchor="middle" transform="rotate(-90 17.5 864.3)">A4 specific k-mers</text>
</svg>
</body></html>
